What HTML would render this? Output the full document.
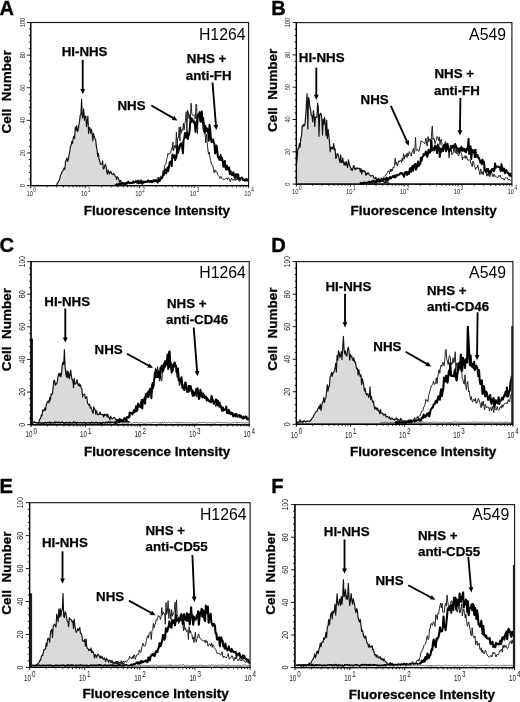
<!DOCTYPE html>
<html><head><meta charset="utf-8"><style>
html,body{margin:0;padding:0;background:#fff;}
svg{display:block;filter:grayscale(1) blur(0.25px);}
text{font-family:"Liberation Sans", sans-serif;}
</style></head><body>
<svg width="520" height="702" viewBox="0 0 520 702">
<rect width="520" height="702" fill="#fff"/>
<text x="-0.50" y="14.50" font-size="20.1" font-weight="bold" fill="#000" text-anchor="start" stroke="#000" stroke-width="0.35">A</text>
<path d="M56.40,185.60 L57.10,183.83 L57.80,182.67 L58.50,181.24 L59.20,180.37 L59.90,178.13 L60.60,174.90 L61.30,174.19 L62.00,171.65 L62.70,171.30 L63.40,169.46 L64.10,167.95 L64.80,169.52 L65.50,161.81 L66.20,160.24 L66.90,157.90 L67.60,161.49 L68.30,159.60 L69.00,155.00 L69.70,151.52 L70.40,146.76 L71.10,145.63 L71.80,141.34 L72.50,143.44 L73.20,138.18 L73.90,136.09 L74.60,138.54 L75.30,127.15 L76.00,130.12 L76.70,125.60 L77.40,131.73 L78.10,129.92 L78.80,125.46 L79.50,121.65 L80.20,115.28 L80.90,114.43 L81.60,99.16 L82.30,118.01 L83.00,116.76 L83.70,108.84 L84.40,120.32 L85.10,116.05 L85.80,116.24 L86.50,126.76 L87.20,120.38 L87.90,116.19 L88.60,133.55 L89.30,127.43 L90.00,128.22 L90.70,133.09 L91.40,129.20 L92.10,133.36 L92.80,140.82 L93.50,133.40 L94.20,136.76 L94.90,138.48 L95.60,139.54 L96.30,145.98 L97.00,149.43 L97.70,156.33 L98.40,153.32 L99.10,159.32 L99.80,161.45 L100.50,164.24 L101.20,164.30 L101.90,164.07 L102.60,160.76 L103.30,169.00 L104.00,168.49 L104.70,165.70 L105.40,164.12 L106.10,166.74 L106.80,172.34 L107.50,174.19 L108.20,169.77 L108.90,172.50 L109.60,173.93 L110.30,171.38 L111.00,171.80 L111.70,173.78 L112.40,174.18 L113.10,174.45 L113.80,173.42 L114.50,175.30 L115.20,175.97 L115.90,176.49 L116.60,179.52 L117.30,176.76 L118.00,177.70 L118.70,178.71 L119.40,181.76 L120.10,181.05 L120.80,180.40 L121.50,183.11 L122.20,182.48 L122.90,182.36 L123.60,184.29 L124.30,183.37 L125.00,184.16 L125.70,184.71 L126.40,184.86 L127.10,185.10 L127.80,185.51 L127.80,185.60 L56.40,185.60 Z" fill="#dadada" stroke="none"/>
<path d="M56.40,185.60 L57.10,183.83 L57.80,182.67 L58.50,181.24 L59.20,180.37 L59.90,178.13 L60.60,174.90 L61.30,174.19 L62.00,171.65 L62.70,171.30 L63.40,169.46 L64.10,167.95 L64.80,169.52 L65.50,161.81 L66.20,160.24 L66.90,157.90 L67.60,161.49 L68.30,159.60 L69.00,155.00 L69.70,151.52 L70.40,146.76 L71.10,145.63 L71.80,141.34 L72.50,143.44 L73.20,138.18 L73.90,136.09 L74.60,138.54 L75.30,127.15 L76.00,130.12 L76.70,125.60 L77.40,131.73 L78.10,129.92 L78.80,125.46 L79.50,121.65 L80.20,115.28 L80.90,114.43 L81.60,99.16 L82.30,118.01 L83.00,116.76 L83.70,108.84 L84.40,120.32 L85.10,116.05 L85.80,116.24 L86.50,126.76 L87.20,120.38 L87.90,116.19 L88.60,133.55 L89.30,127.43 L90.00,128.22 L90.70,133.09 L91.40,129.20 L92.10,133.36 L92.80,140.82 L93.50,133.40 L94.20,136.76 L94.90,138.48 L95.60,139.54 L96.30,145.98 L97.00,149.43 L97.70,156.33 L98.40,153.32 L99.10,159.32 L99.80,161.45 L100.50,164.24 L101.20,164.30 L101.90,164.07 L102.60,160.76 L103.30,169.00 L104.00,168.49 L104.70,165.70 L105.40,164.12 L106.10,166.74 L106.80,172.34 L107.50,174.19 L108.20,169.77 L108.90,172.50 L109.60,173.93 L110.30,171.38 L111.00,171.80 L111.70,173.78 L112.40,174.18 L113.10,174.45 L113.80,173.42 L114.50,175.30 L115.20,175.97 L115.90,176.49 L116.60,179.52 L117.30,176.76 L118.00,177.70 L118.70,178.71 L119.40,181.76 L120.10,181.05 L120.80,180.40 L121.50,183.11 L122.20,182.48 L122.90,182.36 L123.60,184.29 L124.30,183.37 L125.00,184.16 L125.70,184.71 L126.40,184.86 L127.10,185.10 L127.80,185.51" fill="none" stroke="#111" stroke-width="1.15" stroke-linejoin="round"/>
<path d="M140.00,183.92 L140.70,183.18 L141.40,184.11 L142.10,182.92 L142.80,183.43 L143.50,183.27 L144.20,181.78 L144.90,182.67 L145.60,182.63 L146.30,181.93 L147.00,181.47 L147.70,182.11 L148.40,181.48 L149.10,182.48 L149.80,181.86 L150.50,181.66 L151.20,182.12 L151.90,182.01 L152.60,181.86 L153.30,180.29 L154.00,179.92 L154.70,179.76 L155.40,179.06 L156.10,180.25 L156.80,178.60 L157.50,177.93 L158.20,177.02 L158.90,178.58 L159.60,177.43 L160.30,178.69 L161.00,175.83 L161.70,177.47 L162.40,175.52 L163.10,170.42 L163.80,173.93 L164.50,166.08 L165.20,164.67 L165.90,163.81 L166.60,159.68 L167.30,157.15 L168.00,153.36 L168.70,154.63 L169.40,154.02 L170.10,152.80 L170.80,152.76 L171.50,148.47 L172.20,149.63 L172.90,142.06 L173.60,150.93 L174.30,147.00 L175.00,145.27 L175.70,148.28 L176.40,131.96 L177.10,147.22 L177.80,137.70 L178.50,137.39 L179.20,127.18 L179.90,140.95 L180.60,126.80 L181.30,133.22 L182.00,129.43 L182.70,130.44 L183.40,123.19 L184.10,129.99 L184.80,123.73 L185.50,120.30 L186.20,111.70 L186.90,131.09 L187.60,110.26 L188.30,112.11 L189.00,118.90 L189.70,114.43 L190.40,117.92 L191.10,103.23 L191.80,113.53 L192.50,115.28 L193.20,115.09 L193.90,115.15 L194.60,115.25 L195.30,119.10 L196.00,104.12 L196.70,105.68 L197.40,133.74 L198.10,116.04 L198.80,117.42 L199.50,116.53 L200.20,121.08 L200.90,122.49 L201.60,121.92 L202.30,120.73 L203.00,128.90 L203.70,131.58 L204.40,125.00 L205.10,134.03 L205.80,142.97 L206.50,133.91 L207.20,142.46 L207.90,149.79 L208.60,154.23 L209.30,152.13 L210.00,157.69 L210.70,160.50 L211.40,163.84 L212.10,165.20 L212.80,165.29 L213.50,169.93 L214.20,172.64 L214.90,169.77 L215.60,171.73 L216.30,171.40 L217.00,171.81 L217.70,174.78 L218.40,175.63 L219.10,176.38 L219.80,178.49 L220.50,176.79 L221.20,176.50 L221.90,178.36 L222.60,179.28 L223.30,179.34 L224.00,179.62 L224.70,179.37 L225.40,178.65 L226.10,178.88 L226.80,178.13 L227.50,179.47 L228.20,177.59 L228.90,178.31 L229.60,179.99 L230.30,181.52 L231.00,179.29 L231.70,178.22 L232.40,180.14 L233.10,179.94 L233.80,180.08 L234.50,178.92 L235.20,180.54 L235.90,178.72 L236.60,180.05 L237.30,178.91 L238.00,179.84 L238.70,180.15 L239.40,181.39 L240.10,180.70 L240.80,180.35 L241.50,179.55 L242.20,179.99 L242.90,180.92 L243.60,179.96 L244.30,179.50 L245.00,180.59 L245.70,180.91 L246.40,180.92 L247.10,179.91 L247.80,180.22" fill="none" stroke="#1a1a1a" stroke-width="0.95" stroke-linejoin="round"/>
<path d="M115.00,185.16 L115.70,185.06 L116.40,184.31 L117.10,185.32 L117.80,184.39 L118.50,185.17 L119.20,183.61 L119.90,183.89 L120.60,183.22 L121.30,184.01 L122.00,183.44 L122.70,183.68 L123.40,183.82 L124.10,183.22 L124.80,183.92 L125.50,183.33 L126.20,182.66 L126.90,182.99 L127.60,183.23 L128.30,181.59 L129.00,182.86 L129.70,183.21 L130.40,182.70 L131.10,183.09 L131.80,182.96 L132.50,182.89 L133.20,181.29 L133.90,182.56 L134.60,182.41 L135.30,182.03 L136.00,181.07 L136.70,182.54 L137.40,182.78 L138.10,180.58 L138.80,183.28 L139.50,182.47 L140.20,181.69 L140.90,180.48 L141.60,182.76 L142.30,183.79 L143.00,181.49 L143.70,182.32 L144.40,182.18 L145.10,181.50 L145.80,181.63 L146.50,181.53 L147.20,182.04 L147.90,180.66 L148.60,180.44 L149.30,181.54 L150.00,181.88 L150.70,180.88 L151.40,181.01 L152.10,182.17 L152.80,181.64 L153.50,180.34 L154.20,181.22 L154.90,181.35 L155.60,180.84 L156.30,180.98 L157.00,180.89 L157.70,182.49 L158.40,179.24 L159.10,180.45 L159.80,180.88 L160.50,178.50 L161.20,178.59 L161.90,178.32 L162.60,176.55 L163.30,174.06 L164.00,174.82 L164.70,171.92 L165.40,169.54 L166.10,173.35 L166.80,171.25 L167.50,167.60 L168.20,171.19 L168.90,167.15 L169.60,162.59 L170.30,161.80 L171.00,161.55 L171.70,166.21 L172.40,154.55 L173.10,157.69 L173.80,155.77 L174.50,155.16 L175.20,160.06 L175.90,158.09 L176.60,156.27 L177.30,145.45 L178.00,152.66 L178.70,149.64 L179.40,148.51 L180.10,144.56 L180.80,143.57 L181.50,143.17 L182.20,147.44 L182.90,153.19 L183.60,139.80 L184.30,138.07 L185.00,132.98 L185.70,136.83 L186.40,137.56 L187.10,132.07 L187.80,138.94 L188.50,135.54 L189.20,134.11 L189.90,127.04 L190.60,117.47 L191.30,121.96 L192.00,118.71 L192.70,121.47 L193.40,120.33 L194.10,123.26 L194.80,121.89 L195.50,131.82 L196.20,125.29 L196.90,125.18 L197.60,114.81 L198.30,115.93 L199.00,113.85 L199.70,112.09 L200.40,121.45 L201.10,115.07 L201.80,111.39 L202.50,122.03 L203.20,118.01 L203.90,125.04 L204.60,132.80 L205.30,125.92 L206.00,131.20 L206.70,128.11 L207.40,131.67 L208.10,129.34 L208.80,140.81 L209.50,124.86 L210.20,129.68 L210.90,138.23 L211.60,142.03 L212.30,140.22 L213.00,139.47 L213.70,142.12 L214.40,143.87 L215.10,153.33 L215.80,151.89 L216.50,145.43 L217.20,150.43 L217.90,157.19 L218.60,156.64 L219.30,159.66 L220.00,159.73 L220.70,155.13 L221.40,160.07 L222.10,157.99 L222.80,161.59 L223.50,166.79 L224.20,166.02 L224.90,160.95 L225.60,168.25 L226.30,169.51 L227.00,165.66 L227.70,168.66 L228.40,169.57 L229.10,167.62 L229.80,174.11 L230.50,171.02 L231.20,174.04 L231.90,175.10 L232.60,174.67 L233.30,172.18 L234.00,174.69 L234.70,177.67 L235.40,177.12 L236.10,174.05 L236.80,175.18 L237.50,178.33 L238.20,174.38 L238.90,178.23 L239.60,179.59 L240.30,178.79 L241.00,178.06 L241.70,177.55 L242.40,178.16 L243.10,179.69 L243.80,179.83 L244.50,180.77 L245.20,179.32 L245.90,179.87 L246.60,178.98 L247.30,180.57 L248.00,179.78" fill="none" stroke="#000" stroke-width="2.0" stroke-linejoin="round"/>
<rect x="30.70" y="22.50" width="217.90" height="163.10" fill="none" stroke="#1a1a1a" stroke-width="1.15"/>
<line x1="30.70" y1="22.10" x2="30.70" y2="186.10" stroke="#000" stroke-width="1.3"/>
<line x1="30.20" y1="185.60" x2="249.00" y2="185.60" stroke="#000" stroke-width="1.4"/>
<line x1="26.90" y1="185.60" x2="30.70" y2="185.60" stroke="#000" stroke-width="0.9"/>
<line x1="28.90" y1="179.08" x2="30.70" y2="179.08" stroke="#000" stroke-width="0.9"/>
<line x1="28.90" y1="172.55" x2="30.70" y2="172.55" stroke="#000" stroke-width="0.9"/>
<line x1="28.90" y1="166.03" x2="30.70" y2="166.03" stroke="#000" stroke-width="0.9"/>
<line x1="28.90" y1="159.50" x2="30.70" y2="159.50" stroke="#000" stroke-width="0.9"/>
<line x1="26.90" y1="152.98" x2="30.70" y2="152.98" stroke="#000" stroke-width="0.9"/>
<line x1="28.90" y1="146.46" x2="30.70" y2="146.46" stroke="#000" stroke-width="0.9"/>
<line x1="28.90" y1="139.93" x2="30.70" y2="139.93" stroke="#000" stroke-width="0.9"/>
<line x1="28.90" y1="133.41" x2="30.70" y2="133.41" stroke="#000" stroke-width="0.9"/>
<line x1="28.90" y1="126.88" x2="30.70" y2="126.88" stroke="#000" stroke-width="0.9"/>
<line x1="26.90" y1="120.36" x2="30.70" y2="120.36" stroke="#000" stroke-width="0.9"/>
<line x1="28.90" y1="113.84" x2="30.70" y2="113.84" stroke="#000" stroke-width="0.9"/>
<line x1="28.90" y1="107.31" x2="30.70" y2="107.31" stroke="#000" stroke-width="0.9"/>
<line x1="28.90" y1="100.79" x2="30.70" y2="100.79" stroke="#000" stroke-width="0.9"/>
<line x1="28.90" y1="94.26" x2="30.70" y2="94.26" stroke="#000" stroke-width="0.9"/>
<line x1="26.90" y1="87.74" x2="30.70" y2="87.74" stroke="#000" stroke-width="0.9"/>
<line x1="28.90" y1="81.22" x2="30.70" y2="81.22" stroke="#000" stroke-width="0.9"/>
<line x1="28.90" y1="74.69" x2="30.70" y2="74.69" stroke="#000" stroke-width="0.9"/>
<line x1="28.90" y1="68.17" x2="30.70" y2="68.17" stroke="#000" stroke-width="0.9"/>
<line x1="28.90" y1="61.64" x2="30.70" y2="61.64" stroke="#000" stroke-width="0.9"/>
<line x1="26.90" y1="55.12" x2="30.70" y2="55.12" stroke="#000" stroke-width="0.9"/>
<line x1="28.90" y1="48.60" x2="30.70" y2="48.60" stroke="#000" stroke-width="0.9"/>
<line x1="28.90" y1="42.07" x2="30.70" y2="42.07" stroke="#000" stroke-width="0.9"/>
<line x1="28.90" y1="35.55" x2="30.70" y2="35.55" stroke="#000" stroke-width="0.9"/>
<line x1="28.90" y1="29.02" x2="30.70" y2="29.02" stroke="#000" stroke-width="0.9"/>
<line x1="26.90" y1="22.50" x2="30.70" y2="22.50" stroke="#000" stroke-width="0.9"/>
<text x="25.10" y="185.60" font-size="7.2" font-weight="normal" fill="#222" text-anchor="middle" transform="rotate(-90 25.1 185.6)" textLength="3.2" lengthAdjust="spacingAndGlyphs">0</text>
<text x="25.10" y="152.98" font-size="7.2" font-weight="normal" fill="#222" text-anchor="middle" transform="rotate(-90 25.1 152.98)" textLength="6.3" lengthAdjust="spacingAndGlyphs">20</text>
<text x="25.10" y="120.36" font-size="7.2" font-weight="normal" fill="#222" text-anchor="middle" transform="rotate(-90 25.1 120.36)" textLength="6.3" lengthAdjust="spacingAndGlyphs">40</text>
<text x="25.10" y="87.74" font-size="7.2" font-weight="normal" fill="#222" text-anchor="middle" transform="rotate(-90 25.1 87.74)" textLength="6.3" lengthAdjust="spacingAndGlyphs">60</text>
<text x="25.10" y="55.12" font-size="7.2" font-weight="normal" fill="#222" text-anchor="middle" transform="rotate(-90 25.1 55.120000000000005)" textLength="6.3" lengthAdjust="spacingAndGlyphs">80</text>
<text x="25.10" y="22.50" font-size="7.2" font-weight="normal" fill="#222" text-anchor="middle" transform="rotate(-90 25.1 22.5)" textLength="9.6" lengthAdjust="spacingAndGlyphs">100</text>
<line x1="47.10" y1="185.60" x2="47.10" y2="187.40" stroke="#000" stroke-width="0.8"/>
<line x1="56.69" y1="185.60" x2="56.69" y2="187.40" stroke="#000" stroke-width="0.8"/>
<line x1="63.50" y1="185.60" x2="63.50" y2="187.40" stroke="#000" stroke-width="0.8"/>
<line x1="68.78" y1="185.60" x2="68.78" y2="187.40" stroke="#000" stroke-width="0.8"/>
<line x1="73.09" y1="185.60" x2="73.09" y2="187.40" stroke="#000" stroke-width="0.8"/>
<line x1="76.74" y1="185.60" x2="76.74" y2="187.40" stroke="#000" stroke-width="0.8"/>
<line x1="79.90" y1="185.60" x2="79.90" y2="187.40" stroke="#000" stroke-width="0.8"/>
<line x1="82.68" y1="185.60" x2="82.68" y2="187.40" stroke="#000" stroke-width="0.8"/>
<line x1="101.57" y1="185.60" x2="101.57" y2="187.40" stroke="#000" stroke-width="0.8"/>
<line x1="111.17" y1="185.60" x2="111.17" y2="187.40" stroke="#000" stroke-width="0.8"/>
<line x1="117.97" y1="185.60" x2="117.97" y2="187.40" stroke="#000" stroke-width="0.8"/>
<line x1="123.25" y1="185.60" x2="123.25" y2="187.40" stroke="#000" stroke-width="0.8"/>
<line x1="127.56" y1="185.60" x2="127.56" y2="187.40" stroke="#000" stroke-width="0.8"/>
<line x1="131.21" y1="185.60" x2="131.21" y2="187.40" stroke="#000" stroke-width="0.8"/>
<line x1="134.37" y1="185.60" x2="134.37" y2="187.40" stroke="#000" stroke-width="0.8"/>
<line x1="137.16" y1="185.60" x2="137.16" y2="187.40" stroke="#000" stroke-width="0.8"/>
<line x1="156.05" y1="185.60" x2="156.05" y2="187.40" stroke="#000" stroke-width="0.8"/>
<line x1="165.64" y1="185.60" x2="165.64" y2="187.40" stroke="#000" stroke-width="0.8"/>
<line x1="172.45" y1="185.60" x2="172.45" y2="187.40" stroke="#000" stroke-width="0.8"/>
<line x1="177.73" y1="185.60" x2="177.73" y2="187.40" stroke="#000" stroke-width="0.8"/>
<line x1="182.04" y1="185.60" x2="182.04" y2="187.40" stroke="#000" stroke-width="0.8"/>
<line x1="185.69" y1="185.60" x2="185.69" y2="187.40" stroke="#000" stroke-width="0.8"/>
<line x1="188.85" y1="185.60" x2="188.85" y2="187.40" stroke="#000" stroke-width="0.8"/>
<line x1="191.63" y1="185.60" x2="191.63" y2="187.40" stroke="#000" stroke-width="0.8"/>
<line x1="210.52" y1="185.60" x2="210.52" y2="187.40" stroke="#000" stroke-width="0.8"/>
<line x1="220.12" y1="185.60" x2="220.12" y2="187.40" stroke="#000" stroke-width="0.8"/>
<line x1="226.92" y1="185.60" x2="226.92" y2="187.40" stroke="#000" stroke-width="0.8"/>
<line x1="232.20" y1="185.60" x2="232.20" y2="187.40" stroke="#000" stroke-width="0.8"/>
<line x1="236.51" y1="185.60" x2="236.51" y2="187.40" stroke="#000" stroke-width="0.8"/>
<line x1="240.16" y1="185.60" x2="240.16" y2="187.40" stroke="#000" stroke-width="0.8"/>
<line x1="243.32" y1="185.60" x2="243.32" y2="187.40" stroke="#000" stroke-width="0.8"/>
<line x1="246.11" y1="185.60" x2="246.11" y2="187.40" stroke="#000" stroke-width="0.8"/>
<line x1="30.70" y1="185.60" x2="30.70" y2="188.10" stroke="#000" stroke-width="0.9"/>
<text x="26.40" y="195.80" font-size="7.5" font-weight="normal" fill="#222" text-anchor="start" textLength="6.5" lengthAdjust="spacingAndGlyphs">10</text>
<text x="33.30" y="191.90" font-size="7.2" font-weight="normal" fill="#222" text-anchor="start" textLength="2.6" lengthAdjust="spacingAndGlyphs">0</text>
<line x1="85.17" y1="185.60" x2="85.17" y2="188.10" stroke="#000" stroke-width="0.9"/>
<text x="80.88" y="195.80" font-size="7.5" font-weight="normal" fill="#222" text-anchor="start" textLength="6.5" lengthAdjust="spacingAndGlyphs">10</text>
<text x="87.77" y="191.90" font-size="7.2" font-weight="normal" fill="#222" text-anchor="start" textLength="2.6" lengthAdjust="spacingAndGlyphs">1</text>
<line x1="139.65" y1="185.60" x2="139.65" y2="188.10" stroke="#000" stroke-width="0.9"/>
<text x="135.35" y="195.80" font-size="7.5" font-weight="normal" fill="#222" text-anchor="start" textLength="6.5" lengthAdjust="spacingAndGlyphs">10</text>
<text x="142.25" y="191.90" font-size="7.2" font-weight="normal" fill="#222" text-anchor="start" textLength="2.6" lengthAdjust="spacingAndGlyphs">2</text>
<line x1="194.12" y1="185.60" x2="194.12" y2="188.10" stroke="#000" stroke-width="0.9"/>
<text x="189.82" y="195.80" font-size="7.5" font-weight="normal" fill="#222" text-anchor="start" textLength="6.5" lengthAdjust="spacingAndGlyphs">10</text>
<text x="196.72" y="191.90" font-size="7.2" font-weight="normal" fill="#222" text-anchor="start" textLength="2.6" lengthAdjust="spacingAndGlyphs">3</text>
<line x1="248.60" y1="185.60" x2="248.60" y2="188.10" stroke="#000" stroke-width="0.9"/>
<text x="244.30" y="195.80" font-size="7.5" font-weight="normal" fill="#222" text-anchor="start" textLength="6.5" lengthAdjust="spacingAndGlyphs">10</text>
<text x="251.20" y="191.90" font-size="7.2" font-weight="normal" fill="#222" text-anchor="start" textLength="2.6" lengthAdjust="spacingAndGlyphs">4</text>
<text x="11.50" y="91.90" font-size="13.5" font-weight="bold" fill="#000" text-anchor="middle" transform="rotate(-90 11.5 91.9)" stroke="#000" stroke-width="0.3">Cell&#160;&#160;Number</text>
<text x="83.70" y="214.90" font-size="13.5" font-weight="bold" fill="#000" text-anchor="start" stroke="#000" stroke-width="0.3">Fluorescence Intensity</text>
<text x="245.50" y="39.50" font-size="15.8" font-weight="normal" fill="#000" text-anchor="end">H1264</text>
<text x="61.70" y="56.30" font-size="13.3" font-weight="bold" fill="#000" text-anchor="start" stroke="#000" stroke-width="0.25">HI-NHS</text>
<text x="186.80" y="63.40" font-size="13.3" font-weight="bold" fill="#000" text-anchor="start" stroke="#000" stroke-width="0.25">NHS +</text>
<text x="185.80" y="79.80" font-size="13.3" font-weight="bold" fill="#000" text-anchor="start" stroke="#000" stroke-width="0.25">anti-FH</text>
<text x="117.50" y="110.00" font-size="13.3" font-weight="bold" fill="#000" text-anchor="start" stroke="#000" stroke-width="0.25">NHS</text>
<line x1="82.70" y1="59.80" x2="82.70" y2="90.10" stroke="#000" stroke-width="1.85"/>
<path d="M82.70,94.30 L80.30,89.10 L85.10,89.10 Z" fill="#000"/>
<line x1="151.30" y1="105.50" x2="173.86" y2="118.41" stroke="#000" stroke-width="1.85"/>
<path d="M177.50,120.50 L171.79,120.00 L174.18,115.83 Z" fill="#000"/>
<line x1="212.50" y1="82.50" x2="215.97" y2="125.81" stroke="#000" stroke-width="1.85"/>
<path d="M216.30,130.00 L213.49,125.01 L218.28,124.63 Z" fill="#000"/>
<text x="271.30" y="14.50" font-size="20.1" font-weight="bold" fill="#000" text-anchor="start" stroke="#000" stroke-width="0.35">B</text>
<path d="M296.60,163.48 L297.30,155.51 L298.00,148.39 L298.70,148.39 L299.40,143.45 L300.10,147.18 L300.80,138.36 L301.50,135.91 L302.20,125.86 L302.90,126.59 L303.60,124.35 L304.30,125.68 L305.00,123.59 L305.70,115.64 L306.40,104.12 L307.10,93.66 L307.80,129.04 L308.50,97.28 L309.20,100.24 L309.90,107.00 L310.60,109.60 L311.30,115.40 L312.00,115.80 L312.70,121.90 L313.40,110.47 L314.10,115.45 L314.80,126.39 L315.50,116.97 L316.20,116.98 L316.90,117.41 L317.60,103.35 L318.30,107.43 L319.00,136.19 L319.70,114.95 L320.40,113.30 L321.10,113.71 L321.80,118.19 L322.50,135.06 L323.20,119.15 L323.90,124.46 L324.60,117.25 L325.30,123.56 L326.00,135.84 L326.70,120.11 L327.40,138.50 L328.10,129.25 L328.80,135.12 L329.50,142.12 L330.20,151.74 L330.90,147.08 L331.60,148.78 L332.30,147.32 L333.00,149.01 L333.70,143.67 L334.40,149.85 L335.10,148.87 L335.80,158.51 L336.50,157.38 L337.20,153.67 L337.90,154.25 L338.60,155.90 L339.30,160.06 L340.00,162.52 L340.70,154.95 L341.40,162.77 L342.10,162.56 L342.80,157.96 L343.50,162.69 L344.20,165.24 L344.90,162.08 L345.60,165.06 L346.30,161.60 L347.00,165.47 L347.70,167.48 L348.40,159.87 L349.10,163.14 L349.80,166.06 L350.50,167.00 L351.20,170.09 L351.90,168.65 L352.60,170.49 L353.30,166.04 L354.00,165.49 L354.70,169.03 L355.40,169.58 L356.10,167.88 L356.80,168.92 L357.50,167.96 L358.20,168.24 L358.90,168.61 L359.60,168.34 L360.30,171.83 L361.00,168.58 L361.70,174.19 L362.40,170.31 L363.10,171.39 L363.80,170.47 L364.50,171.85 L365.20,171.39 L365.90,175.36 L366.60,173.40 L367.30,174.18 L368.00,172.52 L368.70,173.30 L369.40,174.81 L370.10,175.37 L370.80,176.11 L371.50,175.72 L372.20,175.41 L372.90,175.55 L373.60,177.15 L374.30,178.73 L375.00,178.73 L375.70,177.21 L376.40,179.48 L377.10,178.97 L377.80,181.28 L378.50,178.27 L379.20,179.39 L379.90,180.31 L380.60,180.18 L381.30,179.75 L382.00,180.63 L382.70,180.66 L383.40,181.07 L384.10,182.15 L384.80,182.72 L385.50,181.16 L386.20,182.35 L386.90,181.62 L387.60,181.91 L388.30,182.95 L389.00,183.24 L389.70,183.41 L389.70,184.10 L296.60,184.10 Z" fill="#dadada" stroke="none"/>
<path d="M296.60,163.48 L297.30,155.51 L298.00,148.39 L298.70,148.39 L299.40,143.45 L300.10,147.18 L300.80,138.36 L301.50,135.91 L302.20,125.86 L302.90,126.59 L303.60,124.35 L304.30,125.68 L305.00,123.59 L305.70,115.64 L306.40,104.12 L307.10,93.66 L307.80,129.04 L308.50,97.28 L309.20,100.24 L309.90,107.00 L310.60,109.60 L311.30,115.40 L312.00,115.80 L312.70,121.90 L313.40,110.47 L314.10,115.45 L314.80,126.39 L315.50,116.97 L316.20,116.98 L316.90,117.41 L317.60,103.35 L318.30,107.43 L319.00,136.19 L319.70,114.95 L320.40,113.30 L321.10,113.71 L321.80,118.19 L322.50,135.06 L323.20,119.15 L323.90,124.46 L324.60,117.25 L325.30,123.56 L326.00,135.84 L326.70,120.11 L327.40,138.50 L328.10,129.25 L328.80,135.12 L329.50,142.12 L330.20,151.74 L330.90,147.08 L331.60,148.78 L332.30,147.32 L333.00,149.01 L333.70,143.67 L334.40,149.85 L335.10,148.87 L335.80,158.51 L336.50,157.38 L337.20,153.67 L337.90,154.25 L338.60,155.90 L339.30,160.06 L340.00,162.52 L340.70,154.95 L341.40,162.77 L342.10,162.56 L342.80,157.96 L343.50,162.69 L344.20,165.24 L344.90,162.08 L345.60,165.06 L346.30,161.60 L347.00,165.47 L347.70,167.48 L348.40,159.87 L349.10,163.14 L349.80,166.06 L350.50,167.00 L351.20,170.09 L351.90,168.65 L352.60,170.49 L353.30,166.04 L354.00,165.49 L354.70,169.03 L355.40,169.58 L356.10,167.88 L356.80,168.92 L357.50,167.96 L358.20,168.24 L358.90,168.61 L359.60,168.34 L360.30,171.83 L361.00,168.58 L361.70,174.19 L362.40,170.31 L363.10,171.39 L363.80,170.47 L364.50,171.85 L365.20,171.39 L365.90,175.36 L366.60,173.40 L367.30,174.18 L368.00,172.52 L368.70,173.30 L369.40,174.81 L370.10,175.37 L370.80,176.11 L371.50,175.72 L372.20,175.41 L372.90,175.55 L373.60,177.15 L374.30,178.73 L375.00,178.73 L375.70,177.21 L376.40,179.48 L377.10,178.97 L377.80,181.28 L378.50,178.27 L379.20,179.39 L379.90,180.31 L380.60,180.18 L381.30,179.75 L382.00,180.63 L382.70,180.66 L383.40,181.07 L384.10,182.15 L384.80,182.72 L385.50,181.16 L386.20,182.35 L386.90,181.62 L387.60,181.91 L388.30,182.95 L389.00,183.24 L389.70,183.41" fill="none" stroke="#111" stroke-width="1.15" stroke-linejoin="round"/>
<path d="M370.00,183.68 L370.70,182.99 L371.40,182.57 L372.10,182.99 L372.80,183.20 L373.50,182.48 L374.20,182.04 L374.90,181.54 L375.60,182.60 L376.30,182.50 L377.00,181.18 L377.70,181.14 L378.40,180.28 L379.10,180.44 L379.80,180.99 L380.50,180.56 L381.20,177.51 L381.90,179.18 L382.60,178.97 L383.30,178.68 L384.00,176.66 L384.70,175.88 L385.40,175.76 L386.10,174.68 L386.80,173.48 L387.50,172.13 L388.20,170.75 L388.90,171.33 L389.60,173.81 L390.30,169.01 L391.00,171.90 L391.70,169.02 L392.40,170.69 L393.10,167.24 L393.80,168.02 L394.50,165.34 L395.20,158.25 L395.90,164.51 L396.60,162.06 L397.30,166.19 L398.00,163.40 L398.70,160.72 L399.40,161.87 L400.10,160.25 L400.80,160.32 L401.50,162.43 L402.20,158.09 L402.90,160.93 L403.60,153.67 L404.30,159.11 L405.00,155.50 L405.70,156.72 L406.40,153.84 L407.10,157.63 L407.80,153.01 L408.50,155.70 L409.20,151.58 L409.90,152.98 L410.60,153.97 L411.30,156.21 L412.00,151.54 L412.70,152.04 L413.40,148.34 L414.10,153.79 L414.80,150.76 L415.50,137.26 L416.20,150.73 L416.90,150.12 L417.60,149.36 L418.30,150.96 L419.00,151.48 L419.70,148.73 L420.40,144.71 L421.10,140.81 L421.80,141.99 L422.50,141.53 L423.20,142.25 L423.90,142.31 L424.60,143.86 L425.30,141.66 L426.00,138.04 L426.70,145.01 L427.40,146.05 L428.10,136.47 L428.80,141.99 L429.50,139.03 L430.20,138.93 L430.90,145.65 L431.60,132.48 L432.30,125.96 L433.00,139.85 L433.70,137.77 L434.40,140.04 L435.10,143.70 L435.80,140.90 L436.50,139.14 L437.20,136.45 L437.90,138.07 L438.60,140.91 L439.30,136.80 L440.00,144.79 L440.70,139.83 L441.40,139.23 L442.10,144.59 L442.80,150.18 L443.50,147.63 L444.20,144.26 L444.90,143.95 L445.60,141.49 L446.30,150.60 L447.00,148.20 L447.70,147.03 L448.40,150.37 L449.10,157.84 L449.80,149.18 L450.50,145.17 L451.20,149.19 L451.90,154.98 L452.60,153.69 L453.30,152.05 L454.00,145.74 L454.70,151.30 L455.40,152.93 L456.10,149.03 L456.80,153.83 L457.50,148.53 L458.20,155.84 L458.90,155.41 L459.60,152.24 L460.30,150.46 L461.00,152.76 L461.70,153.90 L462.40,159.88 L463.10,157.07 L463.80,157.42 L464.50,157.84 L465.20,155.56 L465.90,158.60 L466.60,156.42 L467.30,158.85 L468.00,160.51 L468.70,160.08 L469.40,160.01 L470.10,159.70 L470.80,163.40 L471.50,163.52 L472.20,166.63 L472.90,161.01 L473.60,162.08 L474.30,166.10 L475.00,167.36 L475.70,169.46 L476.40,167.40 L477.10,167.92 L477.80,165.00 L478.50,169.02 L479.20,171.33 L479.90,174.61 L480.60,168.93 L481.30,171.29 L482.00,174.26 L482.70,171.69 L483.40,174.59 L484.10,167.12 L484.80,170.87 L485.50,171.88 L486.20,173.17 L486.90,176.18 L487.60,173.48 L488.30,175.67 L489.00,172.85 L489.70,176.81 L490.40,175.29 L491.10,172.61 L491.80,172.27 L492.50,176.23 L493.20,176.90 L493.90,174.06 L494.60,174.35 L495.30,176.85 L496.00,176.72 L496.70,176.95 L497.40,177.75 L498.10,177.39 L498.80,175.47 L499.50,176.35 L500.20,175.16 L500.90,177.67 L501.60,177.96 L502.30,179.00 L503.00,178.29 L503.70,179.59 L504.40,180.16 L505.10,177.96 L505.80,177.43 L506.50,178.15 L507.20,177.87 L507.90,178.98 L508.60,179.97 L509.30,179.42 L510.00,179.95 L510.70,180.69 L511.40,181.28" fill="none" stroke="#1a1a1a" stroke-width="0.95" stroke-linejoin="round"/>
<path d="M360.00,183.32 L360.70,182.72 L361.40,183.41 L362.10,183.71 L362.80,182.88 L363.50,182.66 L364.20,182.67 L364.90,182.53 L365.60,182.71 L366.30,182.85 L367.00,182.85 L367.70,182.53 L368.40,182.53 L369.10,181.82 L369.80,181.88 L370.50,182.76 L371.20,181.67 L371.90,181.97 L372.60,181.27 L373.30,180.97 L374.00,181.41 L374.70,182.68 L375.40,181.13 L376.10,182.32 L376.80,180.19 L377.50,181.46 L378.20,180.99 L378.90,179.42 L379.60,181.81 L380.30,180.34 L381.00,181.02 L381.70,180.44 L382.40,180.51 L383.10,179.15 L383.80,179.80 L384.50,179.08 L385.20,178.65 L385.90,180.57 L386.60,177.61 L387.30,178.95 L388.00,180.12 L388.70,179.02 L389.40,177.37 L390.10,177.07 L390.80,178.54 L391.50,177.50 L392.20,177.12 L392.90,176.01 L393.60,177.05 L394.30,175.55 L395.00,177.46 L395.70,177.04 L396.40,175.16 L397.10,174.84 L397.80,175.54 L398.50,174.48 L399.20,174.74 L399.90,173.77 L400.60,172.99 L401.30,173.60 L402.00,172.94 L402.70,174.38 L403.40,174.38 L404.10,176.72 L404.80,172.53 L405.50,172.84 L406.20,171.76 L406.90,175.02 L407.60,172.51 L408.30,172.24 L409.00,173.89 L409.70,169.04 L410.40,168.07 L411.10,171.94 L411.80,168.56 L412.50,165.85 L413.20,170.74 L413.90,166.30 L414.60,164.74 L415.30,163.76 L416.00,169.57 L416.70,168.13 L417.40,164.62 L418.10,161.54 L418.80,165.98 L419.50,163.97 L420.20,163.94 L420.90,157.73 L421.60,160.86 L422.30,157.25 L423.00,156.24 L423.70,154.07 L424.40,155.22 L425.10,154.62 L425.80,151.53 L426.50,152.63 L427.20,156.85 L427.90,154.31 L428.60,149.67 L429.30,151.53 L430.00,152.60 L430.70,150.40 L431.40,140.62 L432.10,150.50 L432.80,148.44 L433.50,148.27 L434.20,150.37 L434.90,145.59 L435.60,146.45 L436.30,147.71 L437.00,153.10 L437.70,144.59 L438.40,145.98 L439.10,148.52 L439.80,156.87 L440.50,148.39 L441.20,152.11 L441.90,148.94 L442.60,149.84 L443.30,150.87 L444.00,144.94 L444.70,147.84 L445.40,144.23 L446.10,151.31 L446.80,148.82 L447.50,143.81 L448.20,147.15 L448.90,150.54 L449.60,151.07 L450.30,150.11 L451.00,148.48 L451.70,145.99 L452.40,147.74 L453.10,145.78 L453.80,145.50 L454.50,147.82 L455.20,144.05 L455.90,145.83 L456.60,148.80 L457.30,148.74 L458.00,148.27 L458.70,150.59 L459.40,152.53 L460.10,148.15 L460.80,150.12 L461.50,146.82 L462.20,150.80 L462.90,148.80 L463.60,148.70 L464.30,151.01 L465.00,149.14 L465.70,152.27 L466.40,151.67 L467.10,148.21 L467.80,149.81 L468.50,138.88 L469.20,154.00 L469.90,149.88 L470.60,146.37 L471.30,159.01 L472.00,149.86 L472.70,152.62 L473.40,150.41 L474.10,150.56 L474.80,157.10 L475.50,149.65 L476.20,156.73 L476.90,156.59 L477.60,155.06 L478.30,157.78 L479.00,157.70 L479.70,160.51 L480.40,162.58 L481.10,160.84 L481.80,164.37 L482.50,159.76 L483.20,163.21 L483.90,161.72 L484.60,168.20 L485.30,170.72 L486.00,171.90 L486.70,169.11 L487.40,171.32 L488.10,168.98 L488.80,172.68 L489.50,173.09 L490.20,170.95 L490.90,172.26 L491.60,169.86 L492.30,168.94 L493.00,169.03 L493.70,171.17 L494.40,169.92 L495.10,163.42 L495.80,167.86 L496.50,166.58 L497.20,166.61 L497.90,166.63 L498.60,166.63 L499.30,167.41 L500.00,167.69 L500.70,170.96 L501.40,164.23 L502.10,168.06 L502.80,170.99 L503.50,168.41 L504.20,168.91 L504.90,173.18 L505.60,172.35 L506.30,169.96 L507.00,172.19 L507.70,173.08 L508.40,172.81 L509.10,174.85 L509.80,175.54 L510.50,173.68 L511.20,176.37 L511.90,176.73" fill="none" stroke="#000" stroke-width="2.0" stroke-linejoin="round"/>
<rect x="296.40" y="22.60" width="215.50" height="161.50" fill="none" stroke="#1a1a1a" stroke-width="1.15"/>
<line x1="296.40" y1="22.20" x2="296.40" y2="184.60" stroke="#000" stroke-width="1.3"/>
<line x1="295.90" y1="184.10" x2="512.30" y2="184.10" stroke="#000" stroke-width="1.4"/>
<line x1="292.60" y1="184.10" x2="296.40" y2="184.10" stroke="#000" stroke-width="0.9"/>
<line x1="294.60" y1="177.64" x2="296.40" y2="177.64" stroke="#000" stroke-width="0.9"/>
<line x1="294.60" y1="171.18" x2="296.40" y2="171.18" stroke="#000" stroke-width="0.9"/>
<line x1="294.60" y1="164.72" x2="296.40" y2="164.72" stroke="#000" stroke-width="0.9"/>
<line x1="294.60" y1="158.26" x2="296.40" y2="158.26" stroke="#000" stroke-width="0.9"/>
<line x1="292.60" y1="151.80" x2="296.40" y2="151.80" stroke="#000" stroke-width="0.9"/>
<line x1="294.60" y1="145.34" x2="296.40" y2="145.34" stroke="#000" stroke-width="0.9"/>
<line x1="294.60" y1="138.88" x2="296.40" y2="138.88" stroke="#000" stroke-width="0.9"/>
<line x1="294.60" y1="132.42" x2="296.40" y2="132.42" stroke="#000" stroke-width="0.9"/>
<line x1="294.60" y1="125.96" x2="296.40" y2="125.96" stroke="#000" stroke-width="0.9"/>
<line x1="292.60" y1="119.50" x2="296.40" y2="119.50" stroke="#000" stroke-width="0.9"/>
<line x1="294.60" y1="113.04" x2="296.40" y2="113.04" stroke="#000" stroke-width="0.9"/>
<line x1="294.60" y1="106.58" x2="296.40" y2="106.58" stroke="#000" stroke-width="0.9"/>
<line x1="294.60" y1="100.12" x2="296.40" y2="100.12" stroke="#000" stroke-width="0.9"/>
<line x1="294.60" y1="93.66" x2="296.40" y2="93.66" stroke="#000" stroke-width="0.9"/>
<line x1="292.60" y1="87.20" x2="296.40" y2="87.20" stroke="#000" stroke-width="0.9"/>
<line x1="294.60" y1="80.74" x2="296.40" y2="80.74" stroke="#000" stroke-width="0.9"/>
<line x1="294.60" y1="74.28" x2="296.40" y2="74.28" stroke="#000" stroke-width="0.9"/>
<line x1="294.60" y1="67.82" x2="296.40" y2="67.82" stroke="#000" stroke-width="0.9"/>
<line x1="294.60" y1="61.36" x2="296.40" y2="61.36" stroke="#000" stroke-width="0.9"/>
<line x1="292.60" y1="54.90" x2="296.40" y2="54.90" stroke="#000" stroke-width="0.9"/>
<line x1="294.60" y1="48.44" x2="296.40" y2="48.44" stroke="#000" stroke-width="0.9"/>
<line x1="294.60" y1="41.98" x2="296.40" y2="41.98" stroke="#000" stroke-width="0.9"/>
<line x1="294.60" y1="35.52" x2="296.40" y2="35.52" stroke="#000" stroke-width="0.9"/>
<line x1="294.60" y1="29.06" x2="296.40" y2="29.06" stroke="#000" stroke-width="0.9"/>
<line x1="292.60" y1="22.60" x2="296.40" y2="22.60" stroke="#000" stroke-width="0.9"/>
<text x="290.30" y="184.10" font-size="7.2" font-weight="normal" fill="#222" text-anchor="middle" transform="rotate(-90 290.29999999999995 184.1)" textLength="3.2" lengthAdjust="spacingAndGlyphs">0</text>
<text x="290.30" y="151.80" font-size="7.2" font-weight="normal" fill="#222" text-anchor="middle" transform="rotate(-90 290.29999999999995 151.8)" textLength="6.3" lengthAdjust="spacingAndGlyphs">20</text>
<text x="290.30" y="119.50" font-size="7.2" font-weight="normal" fill="#222" text-anchor="middle" transform="rotate(-90 290.29999999999995 119.5)" textLength="6.3" lengthAdjust="spacingAndGlyphs">40</text>
<text x="290.30" y="87.20" font-size="7.2" font-weight="normal" fill="#222" text-anchor="middle" transform="rotate(-90 290.29999999999995 87.19999999999999)" textLength="6.3" lengthAdjust="spacingAndGlyphs">60</text>
<text x="290.30" y="54.90" font-size="7.2" font-weight="normal" fill="#222" text-anchor="middle" transform="rotate(-90 290.29999999999995 54.900000000000006)" textLength="6.3" lengthAdjust="spacingAndGlyphs">80</text>
<text x="290.30" y="22.60" font-size="7.2" font-weight="normal" fill="#222" text-anchor="middle" transform="rotate(-90 290.29999999999995 22.599999999999994)" textLength="9.6" lengthAdjust="spacingAndGlyphs">100</text>
<line x1="312.62" y1="184.10" x2="312.62" y2="185.90" stroke="#000" stroke-width="0.8"/>
<line x1="322.10" y1="184.10" x2="322.10" y2="185.90" stroke="#000" stroke-width="0.8"/>
<line x1="328.84" y1="184.10" x2="328.84" y2="185.90" stroke="#000" stroke-width="0.8"/>
<line x1="334.06" y1="184.10" x2="334.06" y2="185.90" stroke="#000" stroke-width="0.8"/>
<line x1="338.32" y1="184.10" x2="338.32" y2="185.90" stroke="#000" stroke-width="0.8"/>
<line x1="341.93" y1="184.10" x2="341.93" y2="185.90" stroke="#000" stroke-width="0.8"/>
<line x1="345.05" y1="184.10" x2="345.05" y2="185.90" stroke="#000" stroke-width="0.8"/>
<line x1="347.81" y1="184.10" x2="347.81" y2="185.90" stroke="#000" stroke-width="0.8"/>
<line x1="366.49" y1="184.10" x2="366.49" y2="185.90" stroke="#000" stroke-width="0.8"/>
<line x1="375.98" y1="184.10" x2="375.98" y2="185.90" stroke="#000" stroke-width="0.8"/>
<line x1="382.71" y1="184.10" x2="382.71" y2="185.90" stroke="#000" stroke-width="0.8"/>
<line x1="387.93" y1="184.10" x2="387.93" y2="185.90" stroke="#000" stroke-width="0.8"/>
<line x1="392.20" y1="184.10" x2="392.20" y2="185.90" stroke="#000" stroke-width="0.8"/>
<line x1="395.80" y1="184.10" x2="395.80" y2="185.90" stroke="#000" stroke-width="0.8"/>
<line x1="398.93" y1="184.10" x2="398.93" y2="185.90" stroke="#000" stroke-width="0.8"/>
<line x1="401.68" y1="184.10" x2="401.68" y2="185.90" stroke="#000" stroke-width="0.8"/>
<line x1="420.37" y1="184.10" x2="420.37" y2="185.90" stroke="#000" stroke-width="0.8"/>
<line x1="429.85" y1="184.10" x2="429.85" y2="185.90" stroke="#000" stroke-width="0.8"/>
<line x1="436.59" y1="184.10" x2="436.59" y2="185.90" stroke="#000" stroke-width="0.8"/>
<line x1="441.81" y1="184.10" x2="441.81" y2="185.90" stroke="#000" stroke-width="0.8"/>
<line x1="446.07" y1="184.10" x2="446.07" y2="185.90" stroke="#000" stroke-width="0.8"/>
<line x1="449.68" y1="184.10" x2="449.68" y2="185.90" stroke="#000" stroke-width="0.8"/>
<line x1="452.80" y1="184.10" x2="452.80" y2="185.90" stroke="#000" stroke-width="0.8"/>
<line x1="455.56" y1="184.10" x2="455.56" y2="185.90" stroke="#000" stroke-width="0.8"/>
<line x1="474.24" y1="184.10" x2="474.24" y2="185.90" stroke="#000" stroke-width="0.8"/>
<line x1="483.73" y1="184.10" x2="483.73" y2="185.90" stroke="#000" stroke-width="0.8"/>
<line x1="490.46" y1="184.10" x2="490.46" y2="185.90" stroke="#000" stroke-width="0.8"/>
<line x1="495.68" y1="184.10" x2="495.68" y2="185.90" stroke="#000" stroke-width="0.8"/>
<line x1="499.95" y1="184.10" x2="499.95" y2="185.90" stroke="#000" stroke-width="0.8"/>
<line x1="503.55" y1="184.10" x2="503.55" y2="185.90" stroke="#000" stroke-width="0.8"/>
<line x1="506.68" y1="184.10" x2="506.68" y2="185.90" stroke="#000" stroke-width="0.8"/>
<line x1="509.43" y1="184.10" x2="509.43" y2="185.90" stroke="#000" stroke-width="0.8"/>
<line x1="296.40" y1="184.10" x2="296.40" y2="186.60" stroke="#000" stroke-width="0.9"/>
<text x="292.10" y="194.30" font-size="7.5" font-weight="normal" fill="#222" text-anchor="start" textLength="6.5" lengthAdjust="spacingAndGlyphs">10</text>
<text x="299.00" y="190.40" font-size="7.2" font-weight="normal" fill="#222" text-anchor="start" textLength="2.6" lengthAdjust="spacingAndGlyphs">0</text>
<line x1="350.27" y1="184.10" x2="350.27" y2="186.60" stroke="#000" stroke-width="0.9"/>
<text x="345.97" y="194.30" font-size="7.5" font-weight="normal" fill="#222" text-anchor="start" textLength="6.5" lengthAdjust="spacingAndGlyphs">10</text>
<text x="352.88" y="190.40" font-size="7.2" font-weight="normal" fill="#222" text-anchor="start" textLength="2.6" lengthAdjust="spacingAndGlyphs">1</text>
<line x1="404.15" y1="184.10" x2="404.15" y2="186.60" stroke="#000" stroke-width="0.9"/>
<text x="399.85" y="194.30" font-size="7.5" font-weight="normal" fill="#222" text-anchor="start" textLength="6.5" lengthAdjust="spacingAndGlyphs">10</text>
<text x="406.75" y="190.40" font-size="7.2" font-weight="normal" fill="#222" text-anchor="start" textLength="2.6" lengthAdjust="spacingAndGlyphs">2</text>
<line x1="458.02" y1="184.10" x2="458.02" y2="186.60" stroke="#000" stroke-width="0.9"/>
<text x="453.72" y="194.30" font-size="7.5" font-weight="normal" fill="#222" text-anchor="start" textLength="6.5" lengthAdjust="spacingAndGlyphs">10</text>
<text x="460.62" y="190.40" font-size="7.2" font-weight="normal" fill="#222" text-anchor="start" textLength="2.6" lengthAdjust="spacingAndGlyphs">3</text>
<line x1="511.90" y1="184.10" x2="511.90" y2="186.60" stroke="#000" stroke-width="0.9"/>
<text x="507.60" y="194.30" font-size="7.5" font-weight="normal" fill="#222" text-anchor="start" textLength="6.5" lengthAdjust="spacingAndGlyphs">10</text>
<text x="514.50" y="190.40" font-size="7.2" font-weight="normal" fill="#222" text-anchor="start" textLength="2.6" lengthAdjust="spacingAndGlyphs">4</text>
<text x="277.00" y="90.30" font-size="13.5" font-weight="bold" fill="#000" text-anchor="middle" transform="rotate(-90 277 90.3)" stroke="#000" stroke-width="0.3">Cell&#160;&#160;Number</text>
<text x="350.50" y="214.50" font-size="13.5" font-weight="bold" fill="#000" text-anchor="start" stroke="#000" stroke-width="0.3">Fluorescence Intensity</text>
<text x="506.00" y="39.50" font-size="15.8" font-weight="normal" fill="#000" text-anchor="end">A549</text>
<text x="298.80" y="61.90" font-size="13.3" font-weight="bold" fill="#000" text-anchor="start" stroke="#000" stroke-width="0.25">HI-NHS</text>
<text x="434.50" y="77.50" font-size="13.3" font-weight="bold" fill="#000" text-anchor="start" stroke="#000" stroke-width="0.25">NHS +</text>
<text x="434.00" y="95.00" font-size="13.3" font-weight="bold" fill="#000" text-anchor="start" stroke="#000" stroke-width="0.25">anti-FH</text>
<text x="360.60" y="103.50" font-size="13.3" font-weight="bold" fill="#000" text-anchor="start" stroke="#000" stroke-width="0.25">NHS</text>
<line x1="316.30" y1="67.70" x2="316.30" y2="95.80" stroke="#000" stroke-width="1.85"/>
<path d="M316.30,100.00 L313.90,94.80 L318.70,94.80 Z" fill="#000"/>
<line x1="390.80" y1="105.80" x2="407.16" y2="141.88" stroke="#000" stroke-width="1.85"/>
<path d="M408.90,145.70 L404.57,141.96 L408.94,139.97 Z" fill="#000"/>
<line x1="460.40" y1="98.00" x2="459.96" y2="131.20" stroke="#000" stroke-width="1.85"/>
<path d="M459.90,135.40 L457.57,130.17 L462.37,130.23 Z" fill="#000"/>
<text x="-0.50" y="251.50" font-size="20.1" font-weight="bold" fill="#000" text-anchor="start" stroke="#000" stroke-width="0.35">C</text>
<path d="M38.50,423.83 L39.20,420.17 L39.90,419.18 L40.60,418.38 L41.30,414.75 L42.00,416.01 L42.70,409.77 L43.40,410.96 L44.10,410.73 L44.80,407.84 L45.50,410.29 L46.20,405.53 L46.90,403.19 L47.60,401.72 L48.30,400.85 L49.00,402.90 L49.70,397.55 L50.40,400.29 L51.10,394.06 L51.80,394.66 L52.50,393.33 L53.20,386.60 L53.90,380.66 L54.60,380.39 L55.30,385.17 L56.00,383.64 L56.70,383.98 L57.40,380.90 L58.10,376.40 L58.80,373.44 L59.50,376.00 L60.20,373.02 L60.90,376.90 L61.60,373.15 L62.30,363.84 L63.00,362.26 L63.70,364.67 L64.40,349.67 L65.10,366.89 L65.80,373.08 L66.50,377.21 L67.20,370.50 L67.90,377.71 L68.60,371.86 L69.30,378.78 L70.00,375.63 L70.70,370.17 L71.40,375.74 L72.10,379.81 L72.80,379.82 L73.50,387.78 L74.20,378.23 L74.90,384.10 L75.60,383.79 L76.30,382.96 L77.00,379.56 L77.70,383.92 L78.40,385.51 L79.10,383.53 L79.80,386.36 L80.50,384.89 L81.20,388.22 L81.90,389.00 L82.60,396.98 L83.30,394.43 L84.00,394.20 L84.70,394.25 L85.40,398.47 L86.10,397.04 L86.80,396.88 L87.50,402.99 L88.20,404.04 L88.90,405.18 L89.60,404.13 L90.30,408.21 L91.00,407.18 L91.70,409.39 L92.40,411.57 L93.10,413.42 L93.80,406.85 L94.50,408.99 L95.20,409.76 L95.90,414.39 L96.60,410.88 L97.30,413.18 L98.00,414.92 L98.70,414.25 L99.40,414.48 L100.10,411.85 L100.80,414.18 L101.50,414.69 L102.20,414.24 L102.90,414.47 L103.60,416.99 L104.30,414.10 L105.00,415.55 L105.70,414.82 L106.40,414.26 L107.10,416.96 L107.80,414.07 L108.50,417.41 L109.20,417.55 L109.90,419.88 L110.60,416.08 L111.30,418.00 L112.00,418.59 L112.70,418.75 L113.40,417.77 L114.10,417.44 L114.80,418.02 L115.50,419.17 L116.20,419.75 L116.90,421.07 L117.60,420.08 L118.30,419.26 L119.00,420.20 L119.70,418.38 L120.40,419.40 L121.10,420.64 L121.80,420.18 L122.50,420.60 L123.20,421.53 L123.90,421.37 L124.60,422.39 L125.30,421.69 L126.00,420.88 L126.70,422.01 L127.40,420.70 L128.10,422.05 L128.80,421.58 L129.50,421.87 L129.50,424.70 L38.50,424.70 Z" fill="#dadada" stroke="none"/>
<path d="M38.50,423.83 L39.20,420.17 L39.90,419.18 L40.60,418.38 L41.30,414.75 L42.00,416.01 L42.70,409.77 L43.40,410.96 L44.10,410.73 L44.80,407.84 L45.50,410.29 L46.20,405.53 L46.90,403.19 L47.60,401.72 L48.30,400.85 L49.00,402.90 L49.70,397.55 L50.40,400.29 L51.10,394.06 L51.80,394.66 L52.50,393.33 L53.20,386.60 L53.90,380.66 L54.60,380.39 L55.30,385.17 L56.00,383.64 L56.70,383.98 L57.40,380.90 L58.10,376.40 L58.80,373.44 L59.50,376.00 L60.20,373.02 L60.90,376.90 L61.60,373.15 L62.30,363.84 L63.00,362.26 L63.70,364.67 L64.40,349.67 L65.10,366.89 L65.80,373.08 L66.50,377.21 L67.20,370.50 L67.90,377.71 L68.60,371.86 L69.30,378.78 L70.00,375.63 L70.70,370.17 L71.40,375.74 L72.10,379.81 L72.80,379.82 L73.50,387.78 L74.20,378.23 L74.90,384.10 L75.60,383.79 L76.30,382.96 L77.00,379.56 L77.70,383.92 L78.40,385.51 L79.10,383.53 L79.80,386.36 L80.50,384.89 L81.20,388.22 L81.90,389.00 L82.60,396.98 L83.30,394.43 L84.00,394.20 L84.70,394.25 L85.40,398.47 L86.10,397.04 L86.80,396.88 L87.50,402.99 L88.20,404.04 L88.90,405.18 L89.60,404.13 L90.30,408.21 L91.00,407.18 L91.70,409.39 L92.40,411.57 L93.10,413.42 L93.80,406.85 L94.50,408.99 L95.20,409.76 L95.90,414.39 L96.60,410.88 L97.30,413.18 L98.00,414.92 L98.70,414.25 L99.40,414.48 L100.10,411.85 L100.80,414.18 L101.50,414.69 L102.20,414.24 L102.90,414.47 L103.60,416.99 L104.30,414.10 L105.00,415.55 L105.70,414.82 L106.40,414.26 L107.10,416.96 L107.80,414.07 L108.50,417.41 L109.20,417.55 L109.90,419.88 L110.60,416.08 L111.30,418.00 L112.00,418.59 L112.70,418.75 L113.40,417.77 L114.10,417.44 L114.80,418.02 L115.50,419.17 L116.20,419.75 L116.90,421.07 L117.60,420.08 L118.30,419.26 L119.00,420.20 L119.70,418.38 L120.40,419.40 L121.10,420.64 L121.80,420.18 L122.50,420.60 L123.20,421.53 L123.90,421.37 L124.60,422.39 L125.30,421.69 L126.00,420.88 L126.70,422.01 L127.40,420.70 L128.10,422.05 L128.80,421.58 L129.50,421.87" fill="none" stroke="#111" stroke-width="1.15" stroke-linejoin="round"/>
<path d="M100.00,422.83 L100.70,422.67 L101.40,423.29 L102.10,423.32 L102.80,422.94 L103.50,422.52 L104.20,422.91 L104.90,423.38 L105.60,423.26 L106.30,423.04 L107.00,422.73 L107.70,423.01 L108.40,423.11 L109.10,423.07 L109.80,422.94 L110.50,423.22 L111.20,422.99 L111.90,422.90 L112.60,422.48 L113.30,422.99 L114.00,422.67 L114.70,423.28 L115.40,422.70 L116.10,422.90 L116.80,423.12 L117.50,422.95 L118.20,422.66 L118.90,423.04 L119.60,422.61 L120.30,422.45 L121.00,422.42 L121.70,422.41 L122.40,423.31 L123.10,422.80 L123.80,423.12 L124.50,422.60 L125.20,422.87 L125.90,422.82 L126.60,422.74 L127.30,423.07 L128.00,422.84 L128.70,423.10 L129.40,422.21 L130.10,423.01 L130.80,422.85 L131.50,423.41 L132.20,423.32 L132.90,423.11 L133.60,422.58 L134.30,422.59 L135.00,422.74 L135.70,423.03 L136.40,422.23 L137.10,423.15 L137.80,423.09 L138.50,422.65 L139.20,423.12 L139.90,422.71 L140.60,422.48 L141.30,422.81 L142.00,422.65 L142.70,422.77 L143.40,422.99 L144.10,423.81 L144.80,423.16 L145.50,422.76 L146.20,423.29 L146.90,422.94 L147.60,422.68 L148.30,422.30 L149.00,423.19 L149.70,422.91 L150.40,422.66 L151.10,422.56 L151.80,423.19 L152.50,422.11 L153.20,423.00 L153.90,422.37 L154.60,422.80 L155.30,422.60 L156.00,422.18 L156.70,422.50 L157.40,422.69 L158.10,423.06 L158.80,422.95 L159.50,423.20 L160.20,422.06 L160.90,423.25 L161.60,423.59 L162.30,422.18 L163.00,422.31 L163.70,422.85 L164.40,422.45 L165.10,423.00 L165.80,422.92 L166.50,422.56 L167.20,422.60 L167.90,422.88 L168.60,422.19 L169.30,422.49 L170.00,422.68 L170.70,423.13 L171.40,422.69 L172.10,422.84 L172.80,422.76 L173.50,422.46 L174.20,422.92 L174.90,422.64 L175.60,422.47 L176.30,422.61 L177.00,421.97 L177.70,423.31 L178.40,422.75 L179.10,423.13 L179.80,422.75 L180.50,421.89 L181.20,423.28 L181.90,422.83 L182.60,422.51 L183.30,422.70 L184.00,422.43 L184.70,423.25 L185.40,422.41 L186.10,423.05 L186.80,423.14 L187.50,422.54 L188.20,422.57 L188.90,422.98 L189.60,423.01 L190.30,422.80 L191.00,422.74 L191.70,422.79 L192.40,423.07 L193.10,423.51 L193.80,422.30 L194.50,422.68 L195.20,423.15 L195.90,423.26 L196.60,422.97 L197.30,422.87 L198.00,423.45 L198.70,422.27 L199.40,422.59 L200.10,422.84 L200.80,422.62 L201.50,422.66 L202.20,422.38 L202.90,422.68 L203.60,422.31 L204.30,422.22 L205.00,422.84 L205.70,422.89 L206.40,423.03 L207.10,422.81 L207.80,422.98 L208.50,422.73 L209.20,422.63 L209.90,422.56 L210.60,423.12 L211.30,422.38 L212.00,422.84 L212.70,422.77 L213.40,422.91 L214.10,423.41 L214.80,422.65 L215.50,423.33 L216.20,422.37 L216.90,422.72 L217.60,422.22 L218.30,422.52 L219.00,422.50 L219.70,422.27 L220.40,422.75 L221.10,422.22 L221.80,422.78 L222.50,422.65 L223.20,422.96 L223.90,422.56 L224.60,422.51 L225.30,422.91 L226.00,423.17 L226.70,422.75 L227.40,422.60 L228.10,422.79 L228.80,423.07 L229.50,422.98 L230.20,422.83 L230.90,423.62 L231.60,422.94 L232.30,422.26 L233.00,423.17 L233.70,422.81 L234.40,422.17 L235.10,422.50 L235.80,422.43 L236.50,422.79 L237.20,423.18 L237.90,421.78 L238.60,422.64 L239.30,422.66 L240.00,422.19 L240.70,422.47 L241.40,422.72 L242.10,423.11 L242.80,422.79 L243.50,422.79 L244.20,422.97 L244.90,423.03 L245.60,423.08 L246.30,422.78 L247.00,422.94 L247.70,422.60 L248.40,422.40" fill="none" stroke="#444" stroke-width="0.8" stroke-linejoin="round"/>
<path d="M33.00,422.59 L33.70,422.78 L34.40,421.69 L35.10,422.59 L35.80,422.68 L36.50,422.61 L37.20,422.90 L37.90,422.96 L38.60,422.58 L39.30,422.88 L40.00,422.50 L40.70,422.81 L41.40,423.29 L42.10,423.14 L42.80,423.00 L43.50,423.35 L44.20,422.77 L44.90,422.83 L45.60,422.46 L46.30,423.01 L47.00,422.81 L47.70,422.57 L48.40,422.52 L49.10,423.06 L49.80,422.28 L50.50,422.93 L51.20,422.38 L51.90,422.83 L52.60,422.87 L53.30,423.12 L54.00,422.78 L54.70,422.01 L55.40,422.94 L56.10,422.27 L56.80,422.34 L57.50,422.86 L58.20,422.40 L58.90,422.32 L59.60,422.84 L60.30,422.90 L61.00,422.40 L61.70,422.63 L62.40,422.09 L63.10,422.61 L63.80,423.09 L64.50,422.76 L65.20,423.10 L65.90,422.51 L66.60,422.53 L67.30,422.87 L68.00,423.01 L68.70,422.47 L69.40,422.86 L70.10,422.37 L70.80,423.04 L71.50,422.83 L72.20,422.91 L72.90,423.06 L73.60,421.91 L74.30,422.23 L75.00,422.93 L75.70,422.50 L76.40,423.29 L77.10,422.36 L77.80,422.41 L78.50,422.85 L79.20,422.85 L79.90,422.67 L80.60,422.60 L81.30,422.85 L82.00,423.00 L82.70,422.82 L83.40,422.87 L84.10,422.50 L84.80,422.71 L85.50,422.67 L86.20,423.25 L86.90,422.86 L87.60,422.86 L88.30,422.90 L89.00,422.78 L89.70,422.83 L90.40,423.21 L91.10,422.45 L91.80,422.46 L92.50,422.90 L93.20,422.55 L93.90,423.02 L94.60,423.13 L95.30,422.80 L96.00,422.26 L96.70,422.77 L97.40,423.21 L98.10,422.66 L98.80,422.91 L99.50,422.96 L100.20,422.62 L100.90,423.25 L101.60,423.25 L102.30,423.13 L103.00,422.32 L103.70,422.61 L104.40,422.82 L105.10,422.83 L105.80,422.38 L106.50,422.17 L107.20,422.79 L107.90,422.45 L108.60,421.75 L109.30,422.30 L110.00,422.59 L110.70,422.35 L111.40,422.41 L112.10,422.21 L112.80,422.29 L113.50,422.56 L114.20,422.42 L114.90,422.23 L115.60,422.58 L116.30,422.30 L117.00,422.63 L117.70,421.86 L118.40,421.73 L119.10,422.56 L119.80,421.94" fill="none" stroke="#000" stroke-width="1.4" stroke-linejoin="round"/>
<path d="M110.00,420.98 L110.70,422.86 L111.40,421.97 L112.10,422.27 L112.80,422.61 L113.50,422.38 L114.20,422.30 L114.90,422.00 L115.60,421.64 L116.30,421.19 L117.00,421.67 L117.70,421.05 L118.40,421.43 L119.10,421.62 L119.80,421.79 L120.50,422.01 L121.20,422.09 L121.90,420.53 L122.60,420.18 L123.30,419.31 L124.00,418.86 L124.70,419.98 L125.40,419.04 L126.10,419.08 L126.80,416.34 L127.50,417.15 L128.20,416.45 L128.90,417.27 L129.60,417.34 L130.30,415.95 L131.00,414.62 L131.70,413.12 L132.40,415.34 L133.10,411.87 L133.80,413.04 L134.50,411.83 L135.20,410.83 L135.90,410.32 L136.60,408.03 L137.30,406.52 L138.00,406.80 L138.70,407.81 L139.40,405.20 L140.10,404.51 L140.80,402.41 L141.50,402.63 L142.20,405.87 L142.90,402.94 L143.60,401.09 L144.30,396.79 L145.00,398.40 L145.70,394.63 L146.40,395.20 L147.10,398.23 L147.80,393.79 L148.50,391.28 L149.20,390.65 L149.90,395.28 L150.60,387.82 L151.30,389.27 L152.00,392.63 L152.70,385.78 L153.40,389.04 L154.10,384.92 L154.80,373.10 L155.50,367.84 L156.20,372.09 L156.90,373.45 L157.60,366.52 L158.30,371.68 L159.00,376.06 L159.70,381.23 L160.40,366.29 L161.10,379.05 L161.80,381.05 L162.50,370.88 L163.20,367.05 L163.90,370.33 L164.60,360.50 L165.30,364.30 L166.00,361.61 L166.70,359.18 L167.40,362.78 L168.10,359.96 L168.80,351.42 L169.50,367.99 L170.20,363.81 L170.90,361.85 L171.60,366.43 L172.30,363.87 L173.00,371.27 L173.70,365.06 L174.40,364.76 L175.10,362.11 L175.80,365.05 L176.50,373.56 L177.20,377.53 L177.90,367.53 L178.60,373.22 L179.30,385.74 L180.00,381.62 L180.70,384.36 L181.40,383.97 L182.10,388.58 L182.80,384.67 L183.50,385.69 L184.20,385.41 L184.90,381.78 L185.60,385.25 L186.30,390.71 L187.00,393.04 L187.70,389.79 L188.40,385.14 L189.10,386.54 L189.80,391.99 L190.50,387.34 L191.20,390.27 L191.90,394.06 L192.60,391.64 L193.30,393.36 L194.00,396.60 L194.70,394.86 L195.40,393.40 L196.10,390.35 L196.80,397.27 L197.50,393.91 L198.20,394.76 L198.90,395.20 L199.60,398.68 L200.30,392.07 L201.00,392.21 L201.70,391.64 L202.40,394.95 L203.10,392.45 L203.80,395.22 L204.50,394.23 L205.20,398.00 L205.90,396.76 L206.60,398.43 L207.30,400.55 L208.00,399.32 L208.70,401.54 L209.40,401.95 L210.10,400.58 L210.80,401.56 L211.50,395.54 L212.20,396.78 L212.90,398.94 L213.60,400.12 L214.30,404.41 L215.00,402.28 L215.70,406.64 L216.40,405.33 L217.10,405.51 L217.80,405.77 L218.50,403.73 L219.20,407.66 L219.90,401.73 L220.60,408.10 L221.30,405.97 L222.00,411.13 L222.70,406.98 L223.40,411.42 L224.10,409.36 L224.80,410.25 L225.50,409.23 L226.20,409.97 L226.90,410.70 L227.60,411.94 L228.30,408.94 L229.00,413.12 L229.70,412.74 L230.40,413.82 L231.10,413.26 L231.80,415.21 L232.50,414.75 L233.20,413.82 L233.90,415.66 L234.60,414.61 L235.30,416.26 L236.00,413.85 L236.70,416.01 L237.40,413.81 L238.10,415.57 L238.80,416.52 L239.50,415.38 L240.20,415.31 L240.90,415.07 L241.60,415.43 L242.30,416.19 L243.00,418.70 L243.70,416.52 L244.40,417.82 L245.10,417.48 L245.80,416.94 L246.50,419.33 L247.20,417.64 L247.90,417.03 L248.60,419.13" fill="none" stroke="#1a1a1a" stroke-width="0.95" stroke-linejoin="round"/>
<path d="M115.00,422.52 L115.70,423.27 L116.40,421.18 L117.10,419.96 L117.80,421.56 L118.50,420.89 L119.20,420.78 L119.90,421.00 L120.60,420.58 L121.30,419.82 L122.00,420.58 L122.70,421.38 L123.40,421.20 L124.10,418.37 L124.80,418.13 L125.50,418.23 L126.20,420.47 L126.90,417.62 L127.60,416.98 L128.30,417.76 L129.00,417.06 L129.70,412.60 L130.40,413.06 L131.10,413.09 L131.80,413.11 L132.50,413.61 L133.20,412.79 L133.90,410.23 L134.60,412.30 L135.30,410.48 L136.00,406.14 L136.70,411.22 L137.40,409.54 L138.10,403.43 L138.80,405.69 L139.50,405.40 L140.20,406.91 L140.90,407.32 L141.60,399.97 L142.30,408.43 L143.00,399.64 L143.70,401.30 L144.40,399.02 L145.10,403.63 L145.80,394.09 L146.50,393.87 L147.20,393.72 L147.90,392.25 L148.60,396.87 L149.30,390.91 L150.00,388.84 L150.70,388.94 L151.40,398.21 L152.10,385.51 L152.80,382.92 L153.50,385.97 L154.20,379.52 L154.90,372.60 L155.60,377.21 L156.30,370.12 L157.00,377.10 L157.70,376.93 L158.40,371.46 L159.10,375.66 L159.80,378.39 L160.50,368.15 L161.20,369.03 L161.90,365.52 L162.60,371.83 L163.30,369.06 L164.00,363.61 L164.70,367.16 L165.40,364.49 L166.10,360.90 L166.80,364.72 L167.50,354.57 L168.20,368.96 L168.90,360.61 L169.60,351.59 L170.30,362.55 L171.00,367.11 L171.70,372.63 L172.40,369.77 L173.10,364.76 L173.80,366.83 L174.50,362.51 L175.20,366.39 L175.90,365.56 L176.60,372.19 L177.30,369.44 L178.00,368.89 L178.70,380.56 L179.40,379.03 L180.10,380.81 L180.80,381.34 L181.50,377.20 L182.20,383.72 L182.90,386.53 L183.60,388.88 L184.30,390.03 L185.00,385.59 L185.70,382.67 L186.40,386.44 L187.10,390.18 L187.80,388.61 L188.50,391.87 L189.20,385.97 L189.90,389.71 L190.60,385.98 L191.30,389.35 L192.00,390.19 L192.70,395.77 L193.40,391.42 L194.10,394.47 L194.80,395.22 L195.50,393.18 L196.20,388.96 L196.90,392.68 L197.60,388.29 L198.30,392.65 L199.00,399.04 L199.70,396.74 L200.40,389.77 L201.10,393.87 L201.80,395.58 L202.50,397.38 L203.20,395.78 L203.90,395.27 L204.60,397.92 L205.30,397.10 L206.00,396.37 L206.70,400.45 L207.40,398.32 L208.10,400.08 L208.80,400.25 L209.50,401.41 L210.20,401.13 L210.90,402.10 L211.60,395.89 L212.30,401.32 L213.00,400.43 L213.70,403.81 L214.40,401.96 L215.10,401.71 L215.80,399.52 L216.50,399.77 L217.20,405.36 L217.90,400.85 L218.60,405.22 L219.30,403.27 L220.00,406.59 L220.70,405.45 L221.40,407.69 L222.10,410.74 L222.80,407.42 L223.50,409.66 L224.20,409.83 L224.90,409.66 L225.60,409.59 L226.30,406.46 L227.00,413.07 L227.70,412.42 L228.40,413.51 L229.10,410.22 L229.80,413.10 L230.50,413.93 L231.20,412.62 L231.90,413.58 L232.60,413.26 L233.30,416.58 L234.00,414.75 L234.70,414.30 L235.40,416.19 L236.10,413.87 L236.80,415.85 L237.50,416.93 L238.20,416.62 L238.90,415.57 L239.60,415.10 L240.30,417.20 L241.00,416.06 L241.70,417.36 L242.40,418.20 L243.10,418.46 L243.80,416.60 L244.50,418.16 L245.20,417.68 L245.90,416.40 L246.60,417.49 L247.30,419.31 L248.00,419.51 L248.70,419.33" fill="none" stroke="#000" stroke-width="2.0" stroke-linejoin="round"/>
<line x1="31.80" y1="338.50" x2="31.80" y2="424.70" stroke="#222" stroke-width="2.4"/>
<rect x="31.00" y="261.60" width="218.20" height="163.10" fill="none" stroke="#1a1a1a" stroke-width="1.15"/>
<line x1="31.00" y1="261.20" x2="31.00" y2="425.20" stroke="#000" stroke-width="1.3"/>
<line x1="30.50" y1="424.70" x2="249.60" y2="424.70" stroke="#000" stroke-width="1.4"/>
<line x1="27.20" y1="424.70" x2="31.00" y2="424.70" stroke="#000" stroke-width="0.9"/>
<line x1="29.20" y1="418.18" x2="31.00" y2="418.18" stroke="#000" stroke-width="0.9"/>
<line x1="29.20" y1="411.65" x2="31.00" y2="411.65" stroke="#000" stroke-width="0.9"/>
<line x1="29.20" y1="405.13" x2="31.00" y2="405.13" stroke="#000" stroke-width="0.9"/>
<line x1="29.20" y1="398.60" x2="31.00" y2="398.60" stroke="#000" stroke-width="0.9"/>
<line x1="27.20" y1="392.08" x2="31.00" y2="392.08" stroke="#000" stroke-width="0.9"/>
<line x1="29.20" y1="385.56" x2="31.00" y2="385.56" stroke="#000" stroke-width="0.9"/>
<line x1="29.20" y1="379.03" x2="31.00" y2="379.03" stroke="#000" stroke-width="0.9"/>
<line x1="29.20" y1="372.51" x2="31.00" y2="372.51" stroke="#000" stroke-width="0.9"/>
<line x1="29.20" y1="365.98" x2="31.00" y2="365.98" stroke="#000" stroke-width="0.9"/>
<line x1="27.20" y1="359.46" x2="31.00" y2="359.46" stroke="#000" stroke-width="0.9"/>
<line x1="29.20" y1="352.94" x2="31.00" y2="352.94" stroke="#000" stroke-width="0.9"/>
<line x1="29.20" y1="346.41" x2="31.00" y2="346.41" stroke="#000" stroke-width="0.9"/>
<line x1="29.20" y1="339.89" x2="31.00" y2="339.89" stroke="#000" stroke-width="0.9"/>
<line x1="29.20" y1="333.36" x2="31.00" y2="333.36" stroke="#000" stroke-width="0.9"/>
<line x1="27.20" y1="326.84" x2="31.00" y2="326.84" stroke="#000" stroke-width="0.9"/>
<line x1="29.20" y1="320.32" x2="31.00" y2="320.32" stroke="#000" stroke-width="0.9"/>
<line x1="29.20" y1="313.79" x2="31.00" y2="313.79" stroke="#000" stroke-width="0.9"/>
<line x1="29.20" y1="307.27" x2="31.00" y2="307.27" stroke="#000" stroke-width="0.9"/>
<line x1="29.20" y1="300.74" x2="31.00" y2="300.74" stroke="#000" stroke-width="0.9"/>
<line x1="27.20" y1="294.22" x2="31.00" y2="294.22" stroke="#000" stroke-width="0.9"/>
<line x1="29.20" y1="287.70" x2="31.00" y2="287.70" stroke="#000" stroke-width="0.9"/>
<line x1="29.20" y1="281.17" x2="31.00" y2="281.17" stroke="#000" stroke-width="0.9"/>
<line x1="29.20" y1="274.65" x2="31.00" y2="274.65" stroke="#000" stroke-width="0.9"/>
<line x1="29.20" y1="268.12" x2="31.00" y2="268.12" stroke="#000" stroke-width="0.9"/>
<line x1="27.20" y1="261.60" x2="31.00" y2="261.60" stroke="#000" stroke-width="0.9"/>
<text x="24.70" y="424.70" font-size="9.0" font-weight="normal" fill="#222" text-anchor="middle" transform="rotate(-90 24.7 424.7)" textLength="4.0" lengthAdjust="spacingAndGlyphs">0</text>
<text x="24.70" y="392.08" font-size="9.0" font-weight="normal" fill="#222" text-anchor="middle" transform="rotate(-90 24.7 392.08)" textLength="8.0" lengthAdjust="spacingAndGlyphs">20</text>
<text x="24.70" y="359.46" font-size="9.0" font-weight="normal" fill="#222" text-anchor="middle" transform="rotate(-90 24.7 359.46000000000004)" textLength="8.0" lengthAdjust="spacingAndGlyphs">40</text>
<text x="24.70" y="326.84" font-size="9.0" font-weight="normal" fill="#222" text-anchor="middle" transform="rotate(-90 24.7 326.84000000000003)" textLength="8.0" lengthAdjust="spacingAndGlyphs">60</text>
<text x="24.70" y="294.22" font-size="9.0" font-weight="normal" fill="#222" text-anchor="middle" transform="rotate(-90 24.7 294.22)" textLength="8.0" lengthAdjust="spacingAndGlyphs">80</text>
<text x="24.70" y="261.60" font-size="9.0" font-weight="normal" fill="#222" text-anchor="middle" transform="rotate(-90 24.7 261.6)" textLength="11.2" lengthAdjust="spacingAndGlyphs">100</text>
<line x1="47.42" y1="424.70" x2="47.42" y2="426.50" stroke="#000" stroke-width="0.8"/>
<line x1="57.03" y1="424.70" x2="57.03" y2="426.50" stroke="#000" stroke-width="0.8"/>
<line x1="63.84" y1="424.70" x2="63.84" y2="426.50" stroke="#000" stroke-width="0.8"/>
<line x1="69.13" y1="424.70" x2="69.13" y2="426.50" stroke="#000" stroke-width="0.8"/>
<line x1="73.45" y1="424.70" x2="73.45" y2="426.50" stroke="#000" stroke-width="0.8"/>
<line x1="77.10" y1="424.70" x2="77.10" y2="426.50" stroke="#000" stroke-width="0.8"/>
<line x1="80.26" y1="424.70" x2="80.26" y2="426.50" stroke="#000" stroke-width="0.8"/>
<line x1="83.05" y1="424.70" x2="83.05" y2="426.50" stroke="#000" stroke-width="0.8"/>
<line x1="101.97" y1="424.70" x2="101.97" y2="426.50" stroke="#000" stroke-width="0.8"/>
<line x1="111.58" y1="424.70" x2="111.58" y2="426.50" stroke="#000" stroke-width="0.8"/>
<line x1="118.39" y1="424.70" x2="118.39" y2="426.50" stroke="#000" stroke-width="0.8"/>
<line x1="123.68" y1="424.70" x2="123.68" y2="426.50" stroke="#000" stroke-width="0.8"/>
<line x1="128.00" y1="424.70" x2="128.00" y2="426.50" stroke="#000" stroke-width="0.8"/>
<line x1="131.65" y1="424.70" x2="131.65" y2="426.50" stroke="#000" stroke-width="0.8"/>
<line x1="134.81" y1="424.70" x2="134.81" y2="426.50" stroke="#000" stroke-width="0.8"/>
<line x1="137.60" y1="424.70" x2="137.60" y2="426.50" stroke="#000" stroke-width="0.8"/>
<line x1="156.52" y1="424.70" x2="156.52" y2="426.50" stroke="#000" stroke-width="0.8"/>
<line x1="166.13" y1="424.70" x2="166.13" y2="426.50" stroke="#000" stroke-width="0.8"/>
<line x1="172.94" y1="424.70" x2="172.94" y2="426.50" stroke="#000" stroke-width="0.8"/>
<line x1="178.23" y1="424.70" x2="178.23" y2="426.50" stroke="#000" stroke-width="0.8"/>
<line x1="182.55" y1="424.70" x2="182.55" y2="426.50" stroke="#000" stroke-width="0.8"/>
<line x1="186.20" y1="424.70" x2="186.20" y2="426.50" stroke="#000" stroke-width="0.8"/>
<line x1="189.36" y1="424.70" x2="189.36" y2="426.50" stroke="#000" stroke-width="0.8"/>
<line x1="192.15" y1="424.70" x2="192.15" y2="426.50" stroke="#000" stroke-width="0.8"/>
<line x1="211.07" y1="424.70" x2="211.07" y2="426.50" stroke="#000" stroke-width="0.8"/>
<line x1="220.68" y1="424.70" x2="220.68" y2="426.50" stroke="#000" stroke-width="0.8"/>
<line x1="227.49" y1="424.70" x2="227.49" y2="426.50" stroke="#000" stroke-width="0.8"/>
<line x1="232.78" y1="424.70" x2="232.78" y2="426.50" stroke="#000" stroke-width="0.8"/>
<line x1="237.10" y1="424.70" x2="237.10" y2="426.50" stroke="#000" stroke-width="0.8"/>
<line x1="240.75" y1="424.70" x2="240.75" y2="426.50" stroke="#000" stroke-width="0.8"/>
<line x1="243.91" y1="424.70" x2="243.91" y2="426.50" stroke="#000" stroke-width="0.8"/>
<line x1="246.70" y1="424.70" x2="246.70" y2="426.50" stroke="#000" stroke-width="0.8"/>
<line x1="31.00" y1="424.70" x2="31.00" y2="427.20" stroke="#000" stroke-width="0.9"/>
<text x="25.40" y="437.00" font-size="9.4" font-weight="normal" fill="#222" text-anchor="start" textLength="7.0" lengthAdjust="spacingAndGlyphs">10</text>
<text x="33.40" y="433.60" font-size="8.8" font-weight="normal" fill="#222" text-anchor="start" textLength="3.5" lengthAdjust="spacingAndGlyphs">0</text>
<line x1="85.55" y1="424.70" x2="85.55" y2="427.20" stroke="#000" stroke-width="0.9"/>
<text x="79.95" y="437.00" font-size="9.4" font-weight="normal" fill="#222" text-anchor="start" textLength="7.0" lengthAdjust="spacingAndGlyphs">10</text>
<text x="87.95" y="433.60" font-size="8.8" font-weight="normal" fill="#222" text-anchor="start" textLength="3.5" lengthAdjust="spacingAndGlyphs">1</text>
<line x1="140.10" y1="424.70" x2="140.10" y2="427.20" stroke="#000" stroke-width="0.9"/>
<text x="134.50" y="437.00" font-size="9.4" font-weight="normal" fill="#222" text-anchor="start" textLength="7.0" lengthAdjust="spacingAndGlyphs">10</text>
<text x="142.50" y="433.60" font-size="8.8" font-weight="normal" fill="#222" text-anchor="start" textLength="3.5" lengthAdjust="spacingAndGlyphs">2</text>
<line x1="194.65" y1="424.70" x2="194.65" y2="427.20" stroke="#000" stroke-width="0.9"/>
<text x="189.05" y="437.00" font-size="9.4" font-weight="normal" fill="#222" text-anchor="start" textLength="7.0" lengthAdjust="spacingAndGlyphs">10</text>
<text x="197.05" y="433.60" font-size="8.8" font-weight="normal" fill="#222" text-anchor="start" textLength="3.5" lengthAdjust="spacingAndGlyphs">3</text>
<line x1="249.20" y1="424.70" x2="249.20" y2="427.20" stroke="#000" stroke-width="0.9"/>
<text x="243.60" y="437.00" font-size="9.4" font-weight="normal" fill="#222" text-anchor="start" textLength="7.0" lengthAdjust="spacingAndGlyphs">10</text>
<text x="251.60" y="433.60" font-size="8.8" font-weight="normal" fill="#222" text-anchor="start" textLength="3.5" lengthAdjust="spacingAndGlyphs">4</text>
<text x="11.30" y="329.70" font-size="13.5" font-weight="bold" fill="#000" text-anchor="middle" transform="rotate(-90 11.3 329.7)" stroke="#000" stroke-width="0.3">Cell&#160;&#160;Number</text>
<text x="84.00" y="456.20" font-size="13.5" font-weight="bold" fill="#000" text-anchor="start" stroke="#000" stroke-width="0.3">Fluorescence Intensity</text>
<text x="245.80" y="277.50" font-size="15.8" font-weight="normal" fill="#000" text-anchor="end">H1264</text>
<text x="44.30" y="305.70" font-size="13.3" font-weight="bold" fill="#000" text-anchor="start" stroke="#000" stroke-width="0.25">HI-NHS</text>
<text x="167.00" y="307.50" font-size="13.3" font-weight="bold" fill="#000" text-anchor="start" stroke="#000" stroke-width="0.25">NHS +</text>
<text x="166.00" y="323.80" font-size="13.3" font-weight="bold" fill="#000" text-anchor="start" stroke="#000" stroke-width="0.25">anti-CD46</text>
<text x="94.60" y="353.50" font-size="13.3" font-weight="bold" fill="#000" text-anchor="start" stroke="#000" stroke-width="0.25">NHS</text>
<line x1="65.30" y1="308.50" x2="65.30" y2="338.40" stroke="#000" stroke-width="1.85"/>
<path d="M65.30,342.60 L62.90,337.40 L67.70,337.40 Z" fill="#000"/>
<line x1="127.00" y1="353.70" x2="149.32" y2="365.98" stroke="#000" stroke-width="1.85"/>
<path d="M153.00,368.00 L147.29,367.60 L149.60,363.39 Z" fill="#000"/>
<line x1="193.70" y1="327.50" x2="197.17" y2="372.11" stroke="#000" stroke-width="1.85"/>
<path d="M197.50,376.30 L194.70,371.30 L199.49,370.93 Z" fill="#000"/>
<text x="271.30" y="251.50" font-size="20.1" font-weight="bold" fill="#000" text-anchor="start" stroke="#000" stroke-width="0.35">D</text>
<path d="M296.50,423.99 L297.20,422.85 L297.90,421.76 L298.60,422.66 L299.30,421.71 L300.00,419.64 L300.70,422.28 L301.40,421.70 L302.10,421.17 L302.80,422.74 L303.50,421.26 L304.20,420.50 L304.90,421.30 L305.60,421.98 L306.30,421.06 L307.00,421.69 L307.70,420.91 L308.40,421.01 L309.10,421.07 L309.80,421.60 L310.50,419.85 L311.20,420.17 L311.90,418.48 L312.60,417.62 L313.30,416.92 L314.00,414.71 L314.70,413.85 L315.40,412.47 L316.10,411.66 L316.80,411.64 L317.50,409.79 L318.20,408.61 L318.90,406.32 L319.60,408.62 L320.30,404.06 L321.00,410.37 L321.70,406.37 L322.40,402.29 L323.10,401.91 L323.80,397.33 L324.50,402.41 L325.20,398.87 L325.90,397.80 L326.60,391.19 L327.30,384.70 L328.00,391.09 L328.70,386.80 L329.40,386.26 L330.10,377.01 L330.80,375.38 L331.50,372.53 L332.20,376.35 L332.90,372.67 L333.60,372.78 L334.30,370.91 L335.00,368.28 L335.70,363.35 L336.40,371.90 L337.10,355.26 L337.80,360.27 L338.50,350.62 L339.20,352.94 L339.90,357.63 L340.60,355.72 L341.30,351.50 L342.00,359.56 L342.70,347.73 L343.40,336.44 L344.10,349.57 L344.80,353.88 L345.50,351.01 L346.20,355.48 L346.90,356.05 L347.60,349.66 L348.30,347.09 L349.00,350.75 L349.70,360.07 L350.40,354.39 L351.10,356.89 L351.80,356.02 L352.50,359.92 L353.20,360.57 L353.90,357.70 L354.60,362.15 L355.30,361.96 L356.00,365.61 L356.70,368.98 L357.40,368.10 L358.10,375.19 L358.80,369.69 L359.50,373.65 L360.20,376.54 L360.90,374.63 L361.60,384.64 L362.30,378.64 L363.00,381.46 L363.70,385.13 L364.40,390.84 L365.10,388.32 L365.80,392.56 L366.50,395.07 L367.20,393.78 L367.90,393.85 L368.60,397.52 L369.30,395.94 L370.00,386.73 L370.70,399.56 L371.40,396.40 L372.10,399.91 L372.80,402.40 L373.50,401.28 L374.20,407.13 L374.90,409.27 L375.60,407.04 L376.30,408.14 L377.00,410.10 L377.70,408.06 L378.40,411.08 L379.10,410.63 L379.80,413.96 L380.50,409.61 L381.20,413.27 L381.90,413.17 L382.60,412.94 L383.30,415.09 L384.00,414.17 L384.70,415.08 L385.40,414.13 L386.10,417.16 L386.80,416.23 L387.50,416.44 L388.20,417.40 L388.90,418.15 L389.60,416.87 L390.30,419.21 L391.00,419.18 L391.70,418.15 L392.40,418.41 L393.10,419.40 L393.80,419.35 L394.50,420.05 L395.20,418.59 L395.90,419.02 L396.60,417.93 L397.30,420.16 L398.00,419.17 L398.70,420.16 L399.40,420.13 L400.10,421.30 L400.80,418.21 L401.50,419.96 L402.20,420.16 L402.90,420.71 L403.60,421.75 L404.30,422.08 L405.00,422.12 L405.70,421.02 L406.40,422.09 L407.10,421.73 L407.80,421.75 L408.50,421.97 L409.20,422.40 L409.90,422.51 L410.60,422.33 L411.30,422.54 L412.00,423.19 L412.00,424.30 L296.50,424.30 Z" fill="#dadada" stroke="none"/>
<path d="M296.50,423.99 L297.20,422.85 L297.90,421.76 L298.60,422.66 L299.30,421.71 L300.00,419.64 L300.70,422.28 L301.40,421.70 L302.10,421.17 L302.80,422.74 L303.50,421.26 L304.20,420.50 L304.90,421.30 L305.60,421.98 L306.30,421.06 L307.00,421.69 L307.70,420.91 L308.40,421.01 L309.10,421.07 L309.80,421.60 L310.50,419.85 L311.20,420.17 L311.90,418.48 L312.60,417.62 L313.30,416.92 L314.00,414.71 L314.70,413.85 L315.40,412.47 L316.10,411.66 L316.80,411.64 L317.50,409.79 L318.20,408.61 L318.90,406.32 L319.60,408.62 L320.30,404.06 L321.00,410.37 L321.70,406.37 L322.40,402.29 L323.10,401.91 L323.80,397.33 L324.50,402.41 L325.20,398.87 L325.90,397.80 L326.60,391.19 L327.30,384.70 L328.00,391.09 L328.70,386.80 L329.40,386.26 L330.10,377.01 L330.80,375.38 L331.50,372.53 L332.20,376.35 L332.90,372.67 L333.60,372.78 L334.30,370.91 L335.00,368.28 L335.70,363.35 L336.40,371.90 L337.10,355.26 L337.80,360.27 L338.50,350.62 L339.20,352.94 L339.90,357.63 L340.60,355.72 L341.30,351.50 L342.00,359.56 L342.70,347.73 L343.40,336.44 L344.10,349.57 L344.80,353.88 L345.50,351.01 L346.20,355.48 L346.90,356.05 L347.60,349.66 L348.30,347.09 L349.00,350.75 L349.70,360.07 L350.40,354.39 L351.10,356.89 L351.80,356.02 L352.50,359.92 L353.20,360.57 L353.90,357.70 L354.60,362.15 L355.30,361.96 L356.00,365.61 L356.70,368.98 L357.40,368.10 L358.10,375.19 L358.80,369.69 L359.50,373.65 L360.20,376.54 L360.90,374.63 L361.60,384.64 L362.30,378.64 L363.00,381.46 L363.70,385.13 L364.40,390.84 L365.10,388.32 L365.80,392.56 L366.50,395.07 L367.20,393.78 L367.90,393.85 L368.60,397.52 L369.30,395.94 L370.00,386.73 L370.70,399.56 L371.40,396.40 L372.10,399.91 L372.80,402.40 L373.50,401.28 L374.20,407.13 L374.90,409.27 L375.60,407.04 L376.30,408.14 L377.00,410.10 L377.70,408.06 L378.40,411.08 L379.10,410.63 L379.80,413.96 L380.50,409.61 L381.20,413.27 L381.90,413.17 L382.60,412.94 L383.30,415.09 L384.00,414.17 L384.70,415.08 L385.40,414.13 L386.10,417.16 L386.80,416.23 L387.50,416.44 L388.20,417.40 L388.90,418.15 L389.60,416.87 L390.30,419.21 L391.00,419.18 L391.70,418.15 L392.40,418.41 L393.10,419.40 L393.80,419.35 L394.50,420.05 L395.20,418.59 L395.90,419.02 L396.60,417.93 L397.30,420.16 L398.00,419.17 L398.70,420.16 L399.40,420.13 L400.10,421.30 L400.80,418.21 L401.50,419.96 L402.20,420.16 L402.90,420.71 L403.60,421.75 L404.30,422.08 L405.00,422.12 L405.70,421.02 L406.40,422.09 L407.10,421.73 L407.80,421.75 L408.50,421.97 L409.20,422.40 L409.90,422.51 L410.60,422.33 L411.30,422.54 L412.00,423.19" fill="none" stroke="#111" stroke-width="1.15" stroke-linejoin="round"/>
<path d="M380.00,422.53 L380.70,422.66 L381.40,423.02 L382.10,422.37 L382.80,422.55 L383.50,422.53 L384.20,422.58 L384.90,422.12 L385.60,422.33 L386.30,422.22 L387.00,422.70 L387.70,422.75 L388.40,422.93 L389.10,422.67 L389.80,423.48 L390.50,422.04 L391.20,422.53 L391.90,422.54 L392.60,422.28 L393.30,422.68 L394.00,422.47 L394.70,422.29 L395.40,423.07 L396.10,421.95 L396.80,422.48 L397.50,422.32 L398.20,422.87 L398.90,422.72 L399.60,421.93 L400.30,422.68 L401.00,422.63 L401.70,422.33 L402.40,421.99 L403.10,423.31 L403.80,421.96 L404.50,422.37 L405.20,422.15 L405.90,422.81 L406.60,422.34 L407.30,421.88 L408.00,422.47 L408.70,422.65 L409.40,422.58 L410.10,422.61 L410.80,422.14 L411.50,422.34 L412.20,422.58 L412.90,422.12 L413.60,422.78 L414.30,422.90 L415.00,421.51 L415.70,422.60 L416.40,421.79 L417.10,422.40 L417.80,422.44 L418.50,422.16 L419.20,422.65 L419.90,422.64 L420.60,422.42 L421.30,422.48 L422.00,422.08 L422.70,421.64 L423.40,422.76 L424.10,422.66 L424.80,422.07 L425.50,422.16 L426.20,421.94 L426.90,422.61 L427.60,422.13 L428.30,422.36 L429.00,422.93 L429.70,422.18 L430.40,422.90 L431.10,422.15 L431.80,422.50 L432.50,422.41 L433.20,421.57 L433.90,421.79 L434.60,422.19 L435.30,422.20 L436.00,422.62 L436.70,421.89 L437.40,422.12 L438.10,422.65 L438.80,422.94 L439.50,422.34 L440.20,422.40 L440.90,422.03 L441.60,422.71 L442.30,422.66 L443.00,422.19 L443.70,422.31 L444.40,422.00 L445.10,421.94 L445.80,422.66 L446.50,423.19 L447.20,422.32 L447.90,422.60 L448.60,422.25 L449.30,423.32 L450.00,422.38 L450.70,422.31 L451.40,422.54 L452.10,422.15 L452.80,422.30 L453.50,422.26 L454.20,421.87 L454.90,421.87 L455.60,421.91 L456.30,422.20 L457.00,422.29 L457.70,422.14 L458.40,422.23 L459.10,422.60 L459.80,422.20 L460.50,422.01 L461.20,422.49 L461.90,422.73 L462.60,422.13 L463.30,422.61 L464.00,422.87 L464.70,422.43 L465.40,422.87 L466.10,422.22 L466.80,422.52 L467.50,422.31 L468.20,421.93 L468.90,421.94 L469.60,422.37 L470.30,423.15 L471.00,422.51 L471.70,422.76 L472.40,422.02 L473.10,421.78 L473.80,422.09 L474.50,422.11 L475.20,422.14 L475.90,422.09 L476.60,422.47 L477.30,422.02 L478.00,422.45 L478.70,422.75 L479.40,422.32 L480.10,421.77 L480.80,422.41 L481.50,422.97 L482.20,421.89 L482.90,422.25 L483.60,422.14 L484.30,422.51 L485.00,422.17 L485.70,421.76 L486.40,422.57 L487.10,422.09 L487.80,422.21 L488.50,422.65 L489.20,422.27 L489.90,422.13 L490.60,422.64 L491.30,421.92 L492.00,422.74 L492.70,421.92 L493.40,422.12 L494.10,422.25 L494.80,422.62 L495.50,422.62 L496.20,423.13 L496.90,422.35 L497.60,422.38 L498.30,422.14 L499.00,421.97 L499.70,422.27 L500.40,422.46 L501.10,421.98 L501.80,422.34 L502.50,422.35 L503.20,422.76 L503.90,421.96 L504.60,422.58 L505.30,421.64 L506.00,422.65 L506.70,422.51 L507.40,422.31 L508.10,422.59 L508.80,422.86 L509.50,422.75 L510.20,422.63 L510.90,422.42 L511.60,421.99 L512.30,422.10 L513.00,422.22" fill="none" stroke="#444" stroke-width="0.8" stroke-linejoin="round"/>
<path d="M395.00,422.61 L395.70,422.18 L396.40,421.59 L397.10,422.19 L397.80,422.44 L398.50,422.72 L399.20,421.30 L399.90,421.81 L400.60,422.06 L401.30,422.23 L402.00,423.13 L402.70,421.48 L403.40,422.09 L404.10,421.49 L404.80,420.46 L405.50,421.61 L406.20,421.43 L406.90,420.67 L407.60,421.40 L408.30,421.13 L409.00,421.97 L409.70,421.76 L410.40,422.14 L411.10,420.05 L411.80,419.59 L412.50,420.67 L413.20,420.17 L413.90,420.16 L414.60,417.29 L415.30,418.36 L416.00,418.91 L416.70,417.64 L417.40,416.48 L418.10,418.49 L418.80,416.24 L419.50,415.77 L420.20,415.71 L420.90,413.25 L421.60,411.11 L422.30,411.41 L423.00,410.63 L423.70,406.93 L424.40,406.69 L425.10,404.43 L425.80,399.32 L426.50,400.97 L427.20,400.27 L427.90,401.74 L428.60,395.36 L429.30,393.19 L430.00,390.30 L430.70,388.20 L431.40,385.50 L432.10,384.94 L432.80,383.99 L433.50,381.21 L434.20,384.36 L434.90,384.17 L435.60,383.05 L436.30,377.78 L437.00,383.65 L437.70,376.81 L438.40,373.68 L439.10,369.65 L439.80,373.31 L440.50,366.64 L441.20,364.99 L441.90,366.44 L442.60,362.57 L443.30,362.57 L444.00,365.82 L444.70,361.08 L445.40,351.09 L446.10,349.40 L446.80,359.35 L447.50,361.00 L448.20,364.69 L448.90,357.42 L449.60,355.73 L450.30,357.58 L451.00,364.61 L451.70,363.19 L452.40,363.67 L453.10,357.74 L453.80,362.92 L454.50,359.93 L455.20,351.81 L455.90,369.76 L456.60,362.99 L457.30,363.15 L458.00,371.59 L458.70,362.09 L459.40,369.65 L460.10,368.77 L460.80,369.80 L461.50,368.38 L462.20,378.19 L462.90,379.43 L463.60,383.14 L464.30,384.33 L465.00,374.72 L465.70,384.11 L466.40,389.80 L467.10,383.05 L467.80,381.44 L468.50,391.87 L469.20,390.77 L469.90,396.41 L470.60,399.74 L471.30,396.44 L472.00,400.72 L472.70,402.03 L473.40,399.62 L474.10,399.25 L474.80,401.23 L475.50,398.30 L476.20,403.26 L476.90,403.09 L477.60,400.91 L478.30,398.53 L479.00,399.60 L479.70,402.46 L480.40,404.53 L481.10,407.81 L481.80,402.27 L482.50,405.67 L483.20,401.05 L483.90,405.84 L484.60,410.06 L485.30,404.23 L486.00,406.31 L486.70,407.93 L487.40,406.80 L488.10,407.32 L488.80,407.00 L489.50,411.11 L490.20,407.96 L490.90,407.37 L491.60,410.63 L492.30,406.21 L493.00,409.02 L493.70,412.57 L494.40,406.27 L495.10,409.94 L495.80,409.38 L496.50,409.99 L497.20,406.49 L497.90,409.54 L498.60,410.32 L499.30,409.73 L500.00,406.96 L500.70,406.36 L501.40,408.26 L502.10,404.59 L502.80,407.30 L503.50,405.07 L504.20,403.75 L504.90,403.74 L505.60,403.23 L506.30,402.67 L507.00,403.88 L507.70,401.45 L508.40,399.65 L509.10,402.04 L509.80,401.15 L510.50,395.13 L511.20,394.79 L511.90,393.68 L512.60,391.45" fill="none" stroke="#1a1a1a" stroke-width="0.95" stroke-linejoin="round"/>
<path d="M395.00,423.28 L395.70,422.76 L396.40,422.07 L397.10,423.45 L397.80,422.25 L398.50,422.87 L399.20,422.05 L399.90,422.68 L400.60,422.57 L401.30,422.26 L402.00,422.73 L402.70,422.44 L403.40,422.51 L404.10,421.69 L404.80,422.21 L405.50,423.11 L406.20,421.93 L406.90,421.84 L407.60,421.82 L408.30,420.87 L409.00,420.90 L409.70,422.34 L410.40,420.39 L411.10,421.43 L411.80,421.29 L412.50,421.22 L413.20,420.81 L413.90,419.99 L414.60,421.35 L415.30,420.42 L416.00,420.79 L416.70,420.32 L417.40,420.40 L418.10,419.44 L418.80,419.17 L419.50,420.55 L420.20,419.30 L420.90,420.55 L421.60,418.47 L422.30,417.42 L423.00,417.95 L423.70,414.63 L424.40,416.25 L425.10,417.25 L425.80,415.21 L426.50,415.93 L427.20,413.68 L427.90,413.88 L428.60,412.99 L429.30,416.40 L430.00,412.98 L430.70,409.87 L431.40,408.92 L432.10,407.73 L432.80,407.55 L433.50,405.01 L434.20,404.00 L434.90,403.75 L435.60,401.30 L436.30,400.67 L437.00,402.67 L437.70,399.24 L438.40,396.28 L439.10,396.92 L439.80,399.78 L440.50,392.94 L441.20,389.22 L441.90,396.22 L442.60,391.39 L443.30,388.89 L444.00,377.58 L444.70,378.77 L445.40,381.39 L446.10,375.75 L446.80,376.67 L447.50,382.65 L448.20,377.22 L448.90,370.82 L449.60,374.59 L450.30,363.11 L451.00,375.58 L451.70,375.96 L452.40,375.93 L453.10,375.54 L453.80,376.51 L454.50,372.10 L455.20,369.20 L455.90,376.69 L456.60,380.52 L457.30,374.67 L458.00,371.34 L458.70,363.34 L459.40,366.02 L460.10,367.30 L460.80,354.65 L461.50,371.01 L462.20,370.47 L462.90,357.85 L463.60,360.64 L464.30,362.65 L465.00,367.84 L465.70,359.31 L466.40,358.73 L467.10,362.50 L467.80,326.68 L468.50,339.70 L469.20,353.45 L469.90,365.11 L470.60,355.43 L471.30,365.62 L472.00,366.69 L472.70,364.02 L473.40,367.90 L474.10,361.81 L474.80,370.09 L475.50,366.42 L476.20,365.63 L476.90,367.20 L477.60,369.51 L478.30,376.19 L479.00,370.09 L479.70,380.29 L480.40,384.17 L481.10,383.32 L481.80,380.31 L482.50,393.93 L483.20,391.16 L483.90,386.17 L484.60,391.22 L485.30,396.32 L486.00,391.65 L486.70,392.70 L487.40,395.74 L488.10,399.74 L488.80,397.93 L489.50,399.52 L490.20,394.98 L490.90,401.67 L491.60,404.05 L492.30,399.26 L493.00,401.18 L493.70,397.96 L494.40,407.33 L495.10,402.53 L495.80,400.35 L496.50,402.84 L497.20,401.34 L497.90,403.29 L498.60,397.34 L499.30,404.04 L500.00,400.61 L500.70,400.59 L501.40,400.17 L502.10,397.90 L502.80,399.45 L503.50,397.68 L504.20,395.44 L504.90,394.97 L505.60,391.84 L506.30,396.16 L507.00,387.44 L507.70,396.38 L508.40,395.33 L509.10,391.36 L509.80,390.81 L510.50,382.30 L511.20,379.70 L511.90,375.60" fill="none" stroke="#000" stroke-width="2.1" stroke-linejoin="round"/>
<line x1="512.20" y1="326.00" x2="512.20" y2="424.00" stroke="#222" stroke-width="2.0"/>
<rect x="296.40" y="261.60" width="216.50" height="162.70" fill="none" stroke="#1a1a1a" stroke-width="1.15"/>
<line x1="296.40" y1="261.20" x2="296.40" y2="424.80" stroke="#000" stroke-width="1.3"/>
<line x1="295.90" y1="424.30" x2="513.30" y2="424.30" stroke="#000" stroke-width="1.4"/>
<line x1="292.60" y1="424.30" x2="296.40" y2="424.30" stroke="#000" stroke-width="0.9"/>
<line x1="294.60" y1="417.79" x2="296.40" y2="417.79" stroke="#000" stroke-width="0.9"/>
<line x1="294.60" y1="411.28" x2="296.40" y2="411.28" stroke="#000" stroke-width="0.9"/>
<line x1="294.60" y1="404.78" x2="296.40" y2="404.78" stroke="#000" stroke-width="0.9"/>
<line x1="294.60" y1="398.27" x2="296.40" y2="398.27" stroke="#000" stroke-width="0.9"/>
<line x1="292.60" y1="391.76" x2="296.40" y2="391.76" stroke="#000" stroke-width="0.9"/>
<line x1="294.60" y1="385.25" x2="296.40" y2="385.25" stroke="#000" stroke-width="0.9"/>
<line x1="294.60" y1="378.74" x2="296.40" y2="378.74" stroke="#000" stroke-width="0.9"/>
<line x1="294.60" y1="372.24" x2="296.40" y2="372.24" stroke="#000" stroke-width="0.9"/>
<line x1="294.60" y1="365.73" x2="296.40" y2="365.73" stroke="#000" stroke-width="0.9"/>
<line x1="292.60" y1="359.22" x2="296.40" y2="359.22" stroke="#000" stroke-width="0.9"/>
<line x1="294.60" y1="352.71" x2="296.40" y2="352.71" stroke="#000" stroke-width="0.9"/>
<line x1="294.60" y1="346.20" x2="296.40" y2="346.20" stroke="#000" stroke-width="0.9"/>
<line x1="294.60" y1="339.70" x2="296.40" y2="339.70" stroke="#000" stroke-width="0.9"/>
<line x1="294.60" y1="333.19" x2="296.40" y2="333.19" stroke="#000" stroke-width="0.9"/>
<line x1="292.60" y1="326.68" x2="296.40" y2="326.68" stroke="#000" stroke-width="0.9"/>
<line x1="294.60" y1="320.17" x2="296.40" y2="320.17" stroke="#000" stroke-width="0.9"/>
<line x1="294.60" y1="313.66" x2="296.40" y2="313.66" stroke="#000" stroke-width="0.9"/>
<line x1="294.60" y1="307.16" x2="296.40" y2="307.16" stroke="#000" stroke-width="0.9"/>
<line x1="294.60" y1="300.65" x2="296.40" y2="300.65" stroke="#000" stroke-width="0.9"/>
<line x1="292.60" y1="294.14" x2="296.40" y2="294.14" stroke="#000" stroke-width="0.9"/>
<line x1="294.60" y1="287.63" x2="296.40" y2="287.63" stroke="#000" stroke-width="0.9"/>
<line x1="294.60" y1="281.12" x2="296.40" y2="281.12" stroke="#000" stroke-width="0.9"/>
<line x1="294.60" y1="274.62" x2="296.40" y2="274.62" stroke="#000" stroke-width="0.9"/>
<line x1="294.60" y1="268.11" x2="296.40" y2="268.11" stroke="#000" stroke-width="0.9"/>
<line x1="292.60" y1="261.60" x2="296.40" y2="261.60" stroke="#000" stroke-width="0.9"/>
<text x="289.60" y="424.30" font-size="9.0" font-weight="normal" fill="#222" text-anchor="middle" transform="rotate(-90 289.59999999999997 424.3)" textLength="4.0" lengthAdjust="spacingAndGlyphs">0</text>
<text x="289.60" y="391.76" font-size="9.0" font-weight="normal" fill="#222" text-anchor="middle" transform="rotate(-90 289.59999999999997 391.76)" textLength="8.0" lengthAdjust="spacingAndGlyphs">20</text>
<text x="289.60" y="359.22" font-size="9.0" font-weight="normal" fill="#222" text-anchor="middle" transform="rotate(-90 289.59999999999997 359.22)" textLength="8.0" lengthAdjust="spacingAndGlyphs">40</text>
<text x="289.60" y="326.68" font-size="9.0" font-weight="normal" fill="#222" text-anchor="middle" transform="rotate(-90 289.59999999999997 326.68)" textLength="8.0" lengthAdjust="spacingAndGlyphs">60</text>
<text x="289.60" y="294.14" font-size="9.0" font-weight="normal" fill="#222" text-anchor="middle" transform="rotate(-90 289.59999999999997 294.14)" textLength="8.0" lengthAdjust="spacingAndGlyphs">80</text>
<text x="289.60" y="261.60" font-size="9.0" font-weight="normal" fill="#222" text-anchor="middle" transform="rotate(-90 289.59999999999997 261.6)" textLength="11.2" lengthAdjust="spacingAndGlyphs">100</text>
<line x1="312.69" y1="424.30" x2="312.69" y2="426.10" stroke="#000" stroke-width="0.8"/>
<line x1="322.22" y1="424.30" x2="322.22" y2="426.10" stroke="#000" stroke-width="0.8"/>
<line x1="328.99" y1="424.30" x2="328.99" y2="426.10" stroke="#000" stroke-width="0.8"/>
<line x1="334.23" y1="424.30" x2="334.23" y2="426.10" stroke="#000" stroke-width="0.8"/>
<line x1="338.52" y1="424.30" x2="338.52" y2="426.10" stroke="#000" stroke-width="0.8"/>
<line x1="342.14" y1="424.30" x2="342.14" y2="426.10" stroke="#000" stroke-width="0.8"/>
<line x1="345.28" y1="424.30" x2="345.28" y2="426.10" stroke="#000" stroke-width="0.8"/>
<line x1="348.05" y1="424.30" x2="348.05" y2="426.10" stroke="#000" stroke-width="0.8"/>
<line x1="366.82" y1="424.30" x2="366.82" y2="426.10" stroke="#000" stroke-width="0.8"/>
<line x1="376.35" y1="424.30" x2="376.35" y2="426.10" stroke="#000" stroke-width="0.8"/>
<line x1="383.11" y1="424.30" x2="383.11" y2="426.10" stroke="#000" stroke-width="0.8"/>
<line x1="388.36" y1="424.30" x2="388.36" y2="426.10" stroke="#000" stroke-width="0.8"/>
<line x1="392.64" y1="424.30" x2="392.64" y2="426.10" stroke="#000" stroke-width="0.8"/>
<line x1="396.27" y1="424.30" x2="396.27" y2="426.10" stroke="#000" stroke-width="0.8"/>
<line x1="399.40" y1="424.30" x2="399.40" y2="426.10" stroke="#000" stroke-width="0.8"/>
<line x1="402.17" y1="424.30" x2="402.17" y2="426.10" stroke="#000" stroke-width="0.8"/>
<line x1="420.94" y1="424.30" x2="420.94" y2="426.10" stroke="#000" stroke-width="0.8"/>
<line x1="430.47" y1="424.30" x2="430.47" y2="426.10" stroke="#000" stroke-width="0.8"/>
<line x1="437.24" y1="424.30" x2="437.24" y2="426.10" stroke="#000" stroke-width="0.8"/>
<line x1="442.48" y1="424.30" x2="442.48" y2="426.10" stroke="#000" stroke-width="0.8"/>
<line x1="446.77" y1="424.30" x2="446.77" y2="426.10" stroke="#000" stroke-width="0.8"/>
<line x1="450.39" y1="424.30" x2="450.39" y2="426.10" stroke="#000" stroke-width="0.8"/>
<line x1="453.53" y1="424.30" x2="453.53" y2="426.10" stroke="#000" stroke-width="0.8"/>
<line x1="456.30" y1="424.30" x2="456.30" y2="426.10" stroke="#000" stroke-width="0.8"/>
<line x1="475.07" y1="424.30" x2="475.07" y2="426.10" stroke="#000" stroke-width="0.8"/>
<line x1="484.60" y1="424.30" x2="484.60" y2="426.10" stroke="#000" stroke-width="0.8"/>
<line x1="491.36" y1="424.30" x2="491.36" y2="426.10" stroke="#000" stroke-width="0.8"/>
<line x1="496.61" y1="424.30" x2="496.61" y2="426.10" stroke="#000" stroke-width="0.8"/>
<line x1="500.89" y1="424.30" x2="500.89" y2="426.10" stroke="#000" stroke-width="0.8"/>
<line x1="504.52" y1="424.30" x2="504.52" y2="426.10" stroke="#000" stroke-width="0.8"/>
<line x1="507.65" y1="424.30" x2="507.65" y2="426.10" stroke="#000" stroke-width="0.8"/>
<line x1="510.42" y1="424.30" x2="510.42" y2="426.10" stroke="#000" stroke-width="0.8"/>
<line x1="296.40" y1="424.30" x2="296.40" y2="426.80" stroke="#000" stroke-width="0.9"/>
<text x="290.80" y="438.30" font-size="9.4" font-weight="normal" fill="#222" text-anchor="start" textLength="7.0" lengthAdjust="spacingAndGlyphs">10</text>
<text x="298.80" y="433.80" font-size="8.8" font-weight="normal" fill="#222" text-anchor="start" textLength="3.5" lengthAdjust="spacingAndGlyphs">0</text>
<line x1="350.52" y1="424.30" x2="350.52" y2="426.80" stroke="#000" stroke-width="0.9"/>
<text x="344.92" y="438.30" font-size="9.4" font-weight="normal" fill="#222" text-anchor="start" textLength="7.0" lengthAdjust="spacingAndGlyphs">10</text>
<text x="352.92" y="433.80" font-size="8.8" font-weight="normal" fill="#222" text-anchor="start" textLength="3.5" lengthAdjust="spacingAndGlyphs">1</text>
<line x1="404.65" y1="424.30" x2="404.65" y2="426.80" stroke="#000" stroke-width="0.9"/>
<text x="399.05" y="438.30" font-size="9.4" font-weight="normal" fill="#222" text-anchor="start" textLength="7.0" lengthAdjust="spacingAndGlyphs">10</text>
<text x="407.05" y="433.80" font-size="8.8" font-weight="normal" fill="#222" text-anchor="start" textLength="3.5" lengthAdjust="spacingAndGlyphs">2</text>
<line x1="458.77" y1="424.30" x2="458.77" y2="426.80" stroke="#000" stroke-width="0.9"/>
<text x="453.17" y="438.30" font-size="9.4" font-weight="normal" fill="#222" text-anchor="start" textLength="7.0" lengthAdjust="spacingAndGlyphs">10</text>
<text x="461.17" y="433.80" font-size="8.8" font-weight="normal" fill="#222" text-anchor="start" textLength="3.5" lengthAdjust="spacingAndGlyphs">3</text>
<line x1="512.90" y1="424.30" x2="512.90" y2="426.80" stroke="#000" stroke-width="0.9"/>
<text x="507.30" y="438.30" font-size="9.4" font-weight="normal" fill="#222" text-anchor="start" textLength="7.0" lengthAdjust="spacingAndGlyphs">10</text>
<text x="515.30" y="433.80" font-size="8.8" font-weight="normal" fill="#222" text-anchor="start" textLength="3.5" lengthAdjust="spacingAndGlyphs">4</text>
<text x="276.70" y="329.00" font-size="13.5" font-weight="bold" fill="#000" text-anchor="middle" transform="rotate(-90 276.7 329)" stroke="#000" stroke-width="0.3">Cell&#160;&#160;Number</text>
<text x="350.00" y="456.20" font-size="13.5" font-weight="bold" fill="#000" text-anchor="start" stroke="#000" stroke-width="0.3">Fluorescence Intensity</text>
<text x="506.00" y="278.00" font-size="15.8" font-weight="normal" fill="#000" text-anchor="end">A549</text>
<text x="325.50" y="290.50" font-size="13.3" font-weight="bold" fill="#000" text-anchor="start" stroke="#000" stroke-width="0.25">HI-NHS</text>
<text x="427.00" y="294.50" font-size="13.3" font-weight="bold" fill="#000" text-anchor="start" stroke="#000" stroke-width="0.25">NHS +</text>
<text x="427.00" y="311.30" font-size="13.3" font-weight="bold" fill="#000" text-anchor="start" stroke="#000" stroke-width="0.25">anti-CD46</text>
<text x="373.30" y="351.30" font-size="13.3" font-weight="bold" fill="#000" text-anchor="start" stroke="#000" stroke-width="0.25">NHS</text>
<line x1="345.00" y1="293.80" x2="345.00" y2="323.30" stroke="#000" stroke-width="1.85"/>
<path d="M345.00,327.50 L342.60,322.30 L347.40,322.30 Z" fill="#000"/>
<line x1="405.60" y1="351.80" x2="427.56" y2="364.41" stroke="#000" stroke-width="1.85"/>
<path d="M431.20,366.50 L425.50,365.99 L427.89,361.83 Z" fill="#000"/>
<line x1="477.60" y1="312.30" x2="477.05" y2="356.00" stroke="#000" stroke-width="1.85"/>
<path d="M477.00,360.20 L474.67,354.97 L479.46,355.03 Z" fill="#000"/>
<text x="-0.50" y="492.80" font-size="20.1" font-weight="bold" fill="#000" text-anchor="start" stroke="#000" stroke-width="0.35">E</text>
<path d="M35.00,666.63 L35.70,665.36 L36.40,664.73 L37.10,664.17 L37.80,663.66 L38.50,663.00 L39.20,662.04 L39.90,660.24 L40.60,660.30 L41.30,656.45 L42.00,655.34 L42.70,655.58 L43.40,652.05 L44.10,649.37 L44.80,649.71 L45.50,648.87 L46.20,643.10 L46.90,646.17 L47.60,638.87 L48.30,638.22 L49.00,639.66 L49.70,642.23 L50.40,633.17 L51.10,630.41 L51.80,629.46 L52.50,637.49 L53.20,626.21 L53.90,624.99 L54.60,624.21 L55.30,625.87 L56.00,626.91 L56.70,614.16 L57.40,617.67 L58.10,621.71 L58.80,609.17 L59.50,617.13 L60.20,608.56 L60.90,616.08 L61.60,610.76 L62.30,609.60 L63.00,593.28 L63.70,616.42 L64.40,617.51 L65.10,611.86 L65.80,612.55 L66.50,617.57 L67.20,621.21 L67.90,621.94 L68.60,626.75 L69.30,617.60 L70.00,619.38 L70.70,619.40 L71.40,620.18 L72.10,622.09 L72.80,620.95 L73.50,628.57 L74.20,619.10 L74.90,625.61 L75.60,630.18 L76.30,632.41 L77.00,630.77 L77.70,628.57 L78.40,630.50 L79.10,629.47 L79.80,627.60 L80.50,633.38 L81.20,633.44 L81.90,635.38 L82.60,641.10 L83.30,641.05 L84.00,641.48 L84.70,639.43 L85.40,646.26 L86.10,638.73 L86.80,647.03 L87.50,648.53 L88.20,648.80 L88.90,650.64 L89.60,649.44 L90.30,650.45 L91.00,648.01 L91.70,652.79 L92.40,650.82 L93.10,652.14 L93.80,653.34 L94.50,658.03 L95.20,654.66 L95.90,655.59 L96.60,657.58 L97.30,654.87 L98.00,654.27 L98.70,655.22 L99.40,656.40 L100.10,658.12 L100.80,655.84 L101.50,658.10 L102.20,656.69 L102.90,658.89 L103.60,659.18 L104.30,657.82 L105.00,659.56 L105.70,661.71 L106.40,658.31 L107.10,659.43 L107.80,659.62 L108.50,662.22 L109.20,660.87 L109.90,660.14 L110.60,660.72 L111.30,661.85 L112.00,660.60 L112.70,661.96 L113.40,663.31 L114.10,662.15 L114.80,662.62 L115.50,663.35 L116.20,661.53 L116.90,663.46 L117.60,661.59 L118.30,663.43 L119.00,663.20 L119.70,663.14 L120.40,662.53 L121.10,663.39 L121.80,663.07 L122.50,662.89 L123.20,663.74 L123.90,663.75 L124.60,664.10 L124.60,667.40 L35.00,667.40 Z" fill="#dadada" stroke="none"/>
<path d="M35.00,666.63 L35.70,665.36 L36.40,664.73 L37.10,664.17 L37.80,663.66 L38.50,663.00 L39.20,662.04 L39.90,660.24 L40.60,660.30 L41.30,656.45 L42.00,655.34 L42.70,655.58 L43.40,652.05 L44.10,649.37 L44.80,649.71 L45.50,648.87 L46.20,643.10 L46.90,646.17 L47.60,638.87 L48.30,638.22 L49.00,639.66 L49.70,642.23 L50.40,633.17 L51.10,630.41 L51.80,629.46 L52.50,637.49 L53.20,626.21 L53.90,624.99 L54.60,624.21 L55.30,625.87 L56.00,626.91 L56.70,614.16 L57.40,617.67 L58.10,621.71 L58.80,609.17 L59.50,617.13 L60.20,608.56 L60.90,616.08 L61.60,610.76 L62.30,609.60 L63.00,593.28 L63.70,616.42 L64.40,617.51 L65.10,611.86 L65.80,612.55 L66.50,617.57 L67.20,621.21 L67.90,621.94 L68.60,626.75 L69.30,617.60 L70.00,619.38 L70.70,619.40 L71.40,620.18 L72.10,622.09 L72.80,620.95 L73.50,628.57 L74.20,619.10 L74.90,625.61 L75.60,630.18 L76.30,632.41 L77.00,630.77 L77.70,628.57 L78.40,630.50 L79.10,629.47 L79.80,627.60 L80.50,633.38 L81.20,633.44 L81.90,635.38 L82.60,641.10 L83.30,641.05 L84.00,641.48 L84.70,639.43 L85.40,646.26 L86.10,638.73 L86.80,647.03 L87.50,648.53 L88.20,648.80 L88.90,650.64 L89.60,649.44 L90.30,650.45 L91.00,648.01 L91.70,652.79 L92.40,650.82 L93.10,652.14 L93.80,653.34 L94.50,658.03 L95.20,654.66 L95.90,655.59 L96.60,657.58 L97.30,654.87 L98.00,654.27 L98.70,655.22 L99.40,656.40 L100.10,658.12 L100.80,655.84 L101.50,658.10 L102.20,656.69 L102.90,658.89 L103.60,659.18 L104.30,657.82 L105.00,659.56 L105.70,661.71 L106.40,658.31 L107.10,659.43 L107.80,659.62 L108.50,662.22 L109.20,660.87 L109.90,660.14 L110.60,660.72 L111.30,661.85 L112.00,660.60 L112.70,661.96 L113.40,663.31 L114.10,662.15 L114.80,662.62 L115.50,663.35 L116.20,661.53 L116.90,663.46 L117.60,661.59 L118.30,663.43 L119.00,663.20 L119.70,663.14 L120.40,662.53 L121.10,663.39 L121.80,663.07 L122.50,662.89 L123.20,663.74 L123.90,663.75 L124.60,664.10" fill="none" stroke="#111" stroke-width="1.15" stroke-linejoin="round"/>
<path d="M110.00,665.91 L110.70,665.60 L111.40,665.40 L112.10,665.15 L112.80,666.14 L113.50,665.95 L114.20,666.01 L114.90,665.81 L115.60,665.75 L116.30,666.11 L117.00,665.61 L117.70,666.14 L118.40,665.51 L119.10,665.96 L119.80,665.57 L120.50,665.52 L121.20,665.69 L121.90,665.84 L122.60,665.90 L123.30,666.01 L124.00,665.12 L124.70,665.43 L125.40,665.00 L126.10,665.49 L126.80,665.49 L127.50,665.80 L128.20,665.68 L128.90,666.11 L129.60,665.25 L130.30,665.25 L131.00,665.07 L131.70,665.07 L132.40,665.91 L133.10,666.41 L133.80,665.29 L134.50,665.46 L135.20,665.87 L135.90,665.85 L136.60,665.25 L137.30,664.90 L138.00,665.36 L138.70,665.75 L139.40,665.21 L140.10,665.11 L140.80,665.91 L141.50,665.22 L142.20,665.82 L142.90,665.47 L143.60,665.30 L144.30,665.45 L145.00,665.99 L145.70,665.32 L146.40,665.95 L147.10,665.20 L147.80,666.12 L148.50,665.61 L149.20,665.60 L149.90,665.67 L150.60,665.34 L151.30,665.33 L152.00,664.77 L152.70,665.26 L153.40,665.02 L154.10,665.83 L154.80,665.04 L155.50,665.11 L156.20,664.93 L156.90,664.91 L157.60,665.74 L158.30,665.89 L159.00,665.70 L159.70,665.65 L160.40,664.92 L161.10,666.13 L161.80,665.40 L162.50,665.06 L163.20,665.48 L163.90,665.93 L164.60,665.74 L165.30,665.23 L166.00,665.16 L166.70,665.48 L167.40,665.30 L168.10,664.92 L168.80,665.55 L169.50,664.71 L170.20,665.78 L170.90,664.74 L171.60,665.94 L172.30,664.94 L173.00,665.42 L173.70,665.98 L174.40,665.38 L175.10,665.23 L175.80,665.21 L176.50,665.38 L177.20,665.49 L177.90,665.53 L178.60,665.39 L179.30,664.99 L180.00,665.25 L180.70,665.17 L181.40,665.35 L182.10,664.92 L182.80,664.56 L183.50,664.63 L184.20,665.86 L184.90,665.74 L185.60,665.80 L186.30,665.55 L187.00,664.72 L187.70,665.56 L188.40,665.39 L189.10,665.50 L189.80,666.11 L190.50,665.86 L191.20,665.69 L191.90,665.73 L192.60,665.55 L193.30,665.59 L194.00,665.51 L194.70,666.01 L195.40,665.06 L196.10,665.25 L196.80,665.69 L197.50,665.60 L198.20,665.74 L198.90,666.12 L199.60,665.18 L200.30,665.59 L201.00,665.04 L201.70,664.88 L202.40,665.91 L203.10,665.84 L203.80,665.24 L204.50,665.63 L205.20,665.67 L205.90,665.57 L206.60,665.27 L207.30,665.92 L208.00,665.40 L208.70,665.02 L209.40,665.63 L210.10,665.56 L210.80,665.27 L211.50,665.07 L212.20,665.07 L212.90,665.25 L213.60,664.83 L214.30,665.66 L215.00,664.83 L215.70,665.21 L216.40,665.54 L217.10,665.95 L217.80,664.86 L218.50,665.33 L219.20,665.22 L219.90,664.85 L220.60,665.57 L221.30,665.13 L222.00,665.10 L222.70,664.82 L223.40,665.30 L224.10,664.74 L224.80,665.62 L225.50,665.44 L226.20,665.66 L226.90,665.77 L227.60,664.80 L228.30,665.32 L229.00,665.43 L229.70,665.35 L230.40,665.37 L231.10,665.97 L231.80,665.59 L232.50,665.28 L233.20,665.87 L233.90,665.50 L234.60,665.57 L235.30,665.79 L236.00,665.92 L236.70,665.65 L237.40,665.34 L238.10,665.22 L238.80,665.99 L239.50,665.37 L240.20,665.21 L240.90,666.05 L241.60,665.92 L242.30,665.22 L243.00,665.16 L243.70,665.22 L244.40,664.83 L245.10,665.16 L245.80,664.92 L246.50,665.42 L247.20,665.42 L247.90,665.75 L248.60,665.38 L249.30,665.56 L250.00,665.64" fill="none" stroke="#444" stroke-width="0.8" stroke-linejoin="round"/>
<path d="M31.00,665.47 L31.70,665.47 L32.40,665.46 L33.10,665.22 L33.80,665.46 L34.50,665.86 L35.20,665.33 L35.90,665.50 L36.60,665.49 L37.30,665.39 L38.00,665.36 L38.70,665.08 L39.40,665.23 L40.10,665.39 L40.80,665.64 L41.50,665.72 L42.20,665.35 L42.90,665.04 L43.60,665.41 L44.30,665.45 L45.00,665.27 L45.70,665.85 L46.40,665.52 L47.10,665.28 L47.80,665.17 L48.50,665.49 L49.20,665.31 L49.90,665.35 L50.60,665.19 L51.30,665.75 L52.00,665.26 L52.70,665.87 L53.40,666.20 L54.10,665.60 L54.80,665.69 L55.50,665.17 L56.20,665.23 L56.90,665.78 L57.60,665.17 L58.30,665.72 L59.00,665.45 L59.70,665.51 L60.40,665.39 L61.10,665.18 L61.80,665.24 L62.50,665.32 L63.20,665.23 L63.90,665.28 L64.60,665.61 L65.30,665.64 L66.00,665.56 L66.70,665.28 L67.40,665.50 L68.10,664.74 L68.80,665.67 L69.50,665.75 L70.20,665.20 L70.90,665.00 L71.60,665.27 L72.30,665.18 L73.00,665.00 L73.70,665.45 L74.40,665.84 L75.10,665.58 L75.80,665.14 L76.50,665.85 L77.20,665.41 L77.90,665.35 L78.60,665.52 L79.30,665.21 L80.00,665.25 L80.70,664.74 L81.40,665.24 L82.10,665.60 L82.80,665.59 L83.50,665.67 L84.20,665.14 L84.90,665.59 L85.60,665.44 L86.30,665.20 L87.00,665.64 L87.70,665.51 L88.40,665.97 L89.10,665.74 L89.80,665.59 L90.50,665.30 L91.20,665.07 L91.90,665.43 L92.60,665.35 L93.30,665.37 L94.00,665.10 L94.70,665.16 L95.40,665.34 L96.10,665.72 L96.80,665.16 L97.50,665.31 L98.20,665.06 L98.90,665.43 L99.60,664.85 L100.30,665.53 L101.00,664.95 L101.70,665.38 L102.40,665.56 L103.10,665.74 L103.80,665.45 L104.50,664.98 L105.20,665.15 L105.90,665.19 L106.60,666.10 L107.30,665.17 L108.00,665.21 L108.70,665.54 L109.40,665.56 L110.10,665.37 L110.80,664.85 L111.50,665.68 L112.20,665.49 L112.90,664.94 L113.60,665.48 L114.30,665.46 L115.00,665.31 L115.70,665.71 L116.40,665.27 L117.10,665.70 L117.80,665.06 L118.50,665.32 L119.20,664.62 L119.90,665.23 L120.60,664.89 L121.30,665.70 L122.00,665.34 L122.70,665.20 L123.40,664.76 L124.10,665.81 L124.80,664.98 L125.50,665.10 L126.20,664.81 L126.90,665.06 L127.60,665.26 L128.30,665.43 L129.00,665.65 L129.70,665.20" fill="none" stroke="#000" stroke-width="1.5" stroke-linejoin="round"/>
<path d="M110.00,662.09 L110.70,662.89 L111.40,662.54 L112.10,662.28 L112.80,663.62 L113.50,664.15 L114.20,663.70 L114.90,662.35 L115.60,661.62 L116.30,662.34 L117.00,663.58 L117.70,661.00 L118.40,663.65 L119.10,662.54 L119.80,662.53 L120.50,661.67 L121.20,660.77 L121.90,663.16 L122.60,661.94 L123.30,661.23 L124.00,662.61 L124.70,661.45 L125.40,660.97 L126.10,662.22 L126.80,661.90 L127.50,660.19 L128.20,660.05 L128.90,659.19 L129.60,656.42 L130.30,657.65 L131.00,657.85 L131.70,659.00 L132.40,656.49 L133.10,658.46 L133.80,654.86 L134.50,655.02 L135.20,659.28 L135.90,657.29 L136.60,654.93 L137.30,654.42 L138.00,655.07 L138.70,654.22 L139.40,649.80 L140.10,651.30 L140.80,652.45 L141.50,649.11 L142.20,645.61 L142.90,643.13 L143.60,645.78 L144.30,645.77 L145.00,646.08 L145.70,644.35 L146.40,640.32 L147.10,636.97 L147.80,635.47 L148.50,638.12 L149.20,633.46 L149.90,632.33 L150.60,631.81 L151.30,639.54 L152.00,630.59 L152.70,629.92 L153.40,623.31 L154.10,627.87 L154.80,624.36 L155.50,624.07 L156.20,619.47 L156.90,620.32 L157.60,618.34 L158.30,615.57 L159.00,616.61 L159.70,616.31 L160.40,619.46 L161.10,617.02 L161.80,607.54 L162.50,615.17 L163.20,612.13 L163.90,613.54 L164.60,613.43 L165.30,624.23 L166.00,602.49 L166.70,614.34 L167.40,611.77 L168.10,600.69 L168.80,618.52 L169.50,608.81 L170.20,612.57 L170.90,619.29 L171.60,609.74 L172.30,616.23 L173.00,613.12 L173.70,614.26 L174.40,609.39 L175.10,602.10 L175.80,617.09 L176.50,599.87 L177.20,615.99 L177.90,615.96 L178.60,623.67 L179.30,621.93 L180.00,620.48 L180.70,617.07 L181.40,620.70 L182.10,620.90 L182.80,621.79 L183.50,630.71 L184.20,622.24 L184.90,629.72 L185.60,627.80 L186.30,631.62 L187.00,630.66 L187.70,629.94 L188.40,639.47 L189.10,626.69 L189.80,632.86 L190.50,630.54 L191.20,633.68 L191.90,634.54 L192.60,639.16 L193.30,636.88 L194.00,642.48 L194.70,636.76 L195.40,632.05 L196.10,642.17 L196.80,639.00 L197.50,638.34 L198.20,634.28 L198.90,634.33 L199.60,637.85 L200.30,638.01 L201.00,638.95 L201.70,640.24 L202.40,640.66 L203.10,641.07 L203.80,640.70 L204.50,640.56 L205.20,642.85 L205.90,640.11 L206.60,642.25 L207.30,641.30 L208.00,646.41 L208.70,645.24 L209.40,643.96 L210.10,644.22 L210.80,645.98 L211.50,642.87 L212.20,647.43 L212.90,644.65 L213.60,645.49 L214.30,647.67 L215.00,648.89 L215.70,649.40 L216.40,651.43 L217.10,653.62 L217.80,652.86 L218.50,653.40 L219.20,653.35 L219.90,654.24 L220.60,655.16 L221.30,653.47 L222.00,651.71 L222.70,655.80 L223.40,657.67 L224.10,656.00 L224.80,657.34 L225.50,657.34 L226.20,658.07 L226.90,656.65 L227.60,655.86 L228.30,653.59 L229.00,658.61 L229.70,659.09 L230.40,657.53 L231.10,657.64 L231.80,655.46 L232.50,656.07 L233.20,658.85 L233.90,660.81 L234.60,657.57 L235.30,659.04 L236.00,656.92 L236.70,658.97 L237.40,659.18 L238.10,660.64 L238.80,659.44 L239.50,658.23 L240.20,660.71 L240.90,659.74 L241.60,660.81 L242.30,659.35 L243.00,660.60 L243.70,660.15 L244.40,660.59 L245.10,662.02 L245.80,662.47 L246.50,660.20 L247.20,662.03 L247.90,662.86 L248.60,662.68 L249.30,660.76 L250.00,662.38" fill="none" stroke="#1a1a1a" stroke-width="0.95" stroke-linejoin="round"/>
<path d="M130.20,665.83 L130.90,664.69 L131.60,664.65 L132.30,665.01 L133.00,664.51 L133.70,664.19 L134.40,664.10 L135.10,663.92 L135.80,663.31 L136.50,662.86 L137.20,662.25 L137.90,663.34 L138.60,663.68 L139.30,662.30 L140.00,662.99 L140.70,663.26 L141.40,660.80 L142.10,661.38 L142.80,662.32 L143.50,662.11 L144.20,661.23 L144.90,661.25 L145.60,660.66 L146.30,660.66 L147.00,662.05 L147.70,661.56 L148.40,657.51 L149.10,657.83 L149.80,660.50 L150.50,656.45 L151.20,655.87 L151.90,654.61 L152.60,655.08 L153.30,653.97 L154.00,655.28 L154.70,656.05 L155.40,653.11 L156.10,651.22 L156.80,650.79 L157.50,651.97 L158.20,648.47 L158.90,647.67 L159.60,643.10 L160.30,646.32 L161.00,644.63 L161.70,642.38 L162.40,638.98 L163.10,634.91 L163.80,635.53 L164.50,639.77 L165.20,637.44 L165.90,628.37 L166.60,631.36 L167.30,631.46 L168.00,628.14 L168.70,626.21 L169.40,621.25 L170.10,625.25 L170.80,627.30 L171.50,627.67 L172.20,620.08 L172.90,623.10 L173.60,621.88 L174.30,620.19 L175.00,625.27 L175.70,614.71 L176.40,621.38 L177.10,620.64 L177.80,620.39 L178.50,618.32 L179.20,620.34 L179.90,620.38 L180.60,616.64 L181.30,614.05 L182.00,616.42 L182.70,623.95 L183.40,620.88 L184.10,614.02 L184.80,619.57 L185.50,619.13 L186.20,620.44 L186.90,613.34 L187.60,620.74 L188.30,620.48 L189.00,614.31 L189.70,624.35 L190.40,619.60 L191.10,607.37 L191.80,617.24 L192.50,615.34 L193.20,624.64 L193.90,616.91 L194.60,620.29 L195.30,619.00 L196.00,619.17 L196.70,615.41 L197.40,616.81 L198.10,611.37 L198.80,624.70 L199.50,617.96 L200.20,612.07 L200.90,613.36 L201.60,608.86 L202.30,616.54 L203.00,610.18 L203.70,612.01 L204.40,619.29 L205.10,621.27 L205.80,605.62 L206.50,608.70 L207.20,612.71 L207.90,606.46 L208.60,622.79 L209.30,618.31 L210.00,617.98 L210.70,613.74 L211.40,622.66 L212.10,623.82 L212.80,625.81 L213.50,623.81 L214.20,624.25 L214.90,625.46 L215.60,633.36 L216.30,633.23 L217.00,639.48 L217.70,639.52 L218.40,639.52 L219.10,637.28 L219.80,646.10 L220.50,641.20 L221.20,637.43 L221.90,640.65 L222.60,640.83 L223.30,646.40 L224.00,645.31 L224.70,648.59 L225.40,643.57 L226.10,648.31 L226.80,648.85 L227.50,650.51 L228.20,648.34 L228.90,646.37 L229.60,649.87 L230.30,650.51 L231.00,651.67 L231.70,649.13 L232.40,651.38 L233.10,651.04 L233.80,652.19 L234.50,652.37 L235.20,651.77 L235.90,652.20 L236.60,656.09 L237.30,654.08 L238.00,654.71 L238.70,653.99 L239.40,653.19 L240.10,656.50 L240.80,656.80 L241.50,658.19 L242.20,657.39 L242.90,655.28 L243.60,658.23 L244.30,656.08 L245.00,658.16 L245.70,658.89 L246.40,658.94 L247.10,660.10 L247.80,659.52 L248.50,660.35 L249.20,662.74 L249.90,662.01" fill="none" stroke="#000" stroke-width="2.1" stroke-linejoin="round"/>
<line x1="31.00" y1="593.30" x2="31.00" y2="667.50" stroke="#222" stroke-width="2.2"/>
<rect x="29.60" y="502.70" width="220.50" height="164.70" fill="none" stroke="#1a1a1a" stroke-width="1.15"/>
<line x1="29.60" y1="502.30" x2="29.60" y2="667.90" stroke="#000" stroke-width="1.3"/>
<line x1="29.10" y1="667.40" x2="250.50" y2="667.40" stroke="#000" stroke-width="1.4"/>
<line x1="25.80" y1="667.40" x2="29.60" y2="667.40" stroke="#000" stroke-width="0.9"/>
<line x1="27.80" y1="660.81" x2="29.60" y2="660.81" stroke="#000" stroke-width="0.9"/>
<line x1="27.80" y1="654.22" x2="29.60" y2="654.22" stroke="#000" stroke-width="0.9"/>
<line x1="27.80" y1="647.64" x2="29.60" y2="647.64" stroke="#000" stroke-width="0.9"/>
<line x1="27.80" y1="641.05" x2="29.60" y2="641.05" stroke="#000" stroke-width="0.9"/>
<line x1="25.80" y1="634.46" x2="29.60" y2="634.46" stroke="#000" stroke-width="0.9"/>
<line x1="27.80" y1="627.87" x2="29.60" y2="627.87" stroke="#000" stroke-width="0.9"/>
<line x1="27.80" y1="621.28" x2="29.60" y2="621.28" stroke="#000" stroke-width="0.9"/>
<line x1="27.80" y1="614.70" x2="29.60" y2="614.70" stroke="#000" stroke-width="0.9"/>
<line x1="27.80" y1="608.11" x2="29.60" y2="608.11" stroke="#000" stroke-width="0.9"/>
<line x1="25.80" y1="601.52" x2="29.60" y2="601.52" stroke="#000" stroke-width="0.9"/>
<line x1="27.80" y1="594.93" x2="29.60" y2="594.93" stroke="#000" stroke-width="0.9"/>
<line x1="27.80" y1="588.34" x2="29.60" y2="588.34" stroke="#000" stroke-width="0.9"/>
<line x1="27.80" y1="581.76" x2="29.60" y2="581.76" stroke="#000" stroke-width="0.9"/>
<line x1="27.80" y1="575.17" x2="29.60" y2="575.17" stroke="#000" stroke-width="0.9"/>
<line x1="25.80" y1="568.58" x2="29.60" y2="568.58" stroke="#000" stroke-width="0.9"/>
<line x1="27.80" y1="561.99" x2="29.60" y2="561.99" stroke="#000" stroke-width="0.9"/>
<line x1="27.80" y1="555.40" x2="29.60" y2="555.40" stroke="#000" stroke-width="0.9"/>
<line x1="27.80" y1="548.82" x2="29.60" y2="548.82" stroke="#000" stroke-width="0.9"/>
<line x1="27.80" y1="542.23" x2="29.60" y2="542.23" stroke="#000" stroke-width="0.9"/>
<line x1="25.80" y1="535.64" x2="29.60" y2="535.64" stroke="#000" stroke-width="0.9"/>
<line x1="27.80" y1="529.05" x2="29.60" y2="529.05" stroke="#000" stroke-width="0.9"/>
<line x1="27.80" y1="522.46" x2="29.60" y2="522.46" stroke="#000" stroke-width="0.9"/>
<line x1="27.80" y1="515.88" x2="29.60" y2="515.88" stroke="#000" stroke-width="0.9"/>
<line x1="27.80" y1="509.29" x2="29.60" y2="509.29" stroke="#000" stroke-width="0.9"/>
<line x1="25.80" y1="502.70" x2="29.60" y2="502.70" stroke="#000" stroke-width="0.9"/>
<text x="22.90" y="667.40" font-size="9.0" font-weight="normal" fill="#222" text-anchor="middle" transform="rotate(-90 22.900000000000002 667.4)" textLength="4.0" lengthAdjust="spacingAndGlyphs">0</text>
<text x="22.90" y="634.46" font-size="9.0" font-weight="normal" fill="#222" text-anchor="middle" transform="rotate(-90 22.900000000000002 634.46)" textLength="8.0" lengthAdjust="spacingAndGlyphs">20</text>
<text x="22.90" y="601.52" font-size="9.0" font-weight="normal" fill="#222" text-anchor="middle" transform="rotate(-90 22.900000000000002 601.52)" textLength="8.0" lengthAdjust="spacingAndGlyphs">40</text>
<text x="22.90" y="568.58" font-size="9.0" font-weight="normal" fill="#222" text-anchor="middle" transform="rotate(-90 22.900000000000002 568.5799999999999)" textLength="8.0" lengthAdjust="spacingAndGlyphs">60</text>
<text x="22.90" y="535.64" font-size="9.0" font-weight="normal" fill="#222" text-anchor="middle" transform="rotate(-90 22.900000000000002 535.64)" textLength="8.0" lengthAdjust="spacingAndGlyphs">80</text>
<text x="22.90" y="502.70" font-size="9.0" font-weight="normal" fill="#222" text-anchor="middle" transform="rotate(-90 22.900000000000002 502.7)" textLength="11.2" lengthAdjust="spacingAndGlyphs">100</text>
<line x1="46.19" y1="667.40" x2="46.19" y2="669.20" stroke="#000" stroke-width="0.8"/>
<line x1="55.90" y1="667.40" x2="55.90" y2="669.20" stroke="#000" stroke-width="0.8"/>
<line x1="62.79" y1="667.40" x2="62.79" y2="669.20" stroke="#000" stroke-width="0.8"/>
<line x1="68.13" y1="667.40" x2="68.13" y2="669.20" stroke="#000" stroke-width="0.8"/>
<line x1="72.50" y1="667.40" x2="72.50" y2="669.20" stroke="#000" stroke-width="0.8"/>
<line x1="76.19" y1="667.40" x2="76.19" y2="669.20" stroke="#000" stroke-width="0.8"/>
<line x1="79.38" y1="667.40" x2="79.38" y2="669.20" stroke="#000" stroke-width="0.8"/>
<line x1="82.20" y1="667.40" x2="82.20" y2="669.20" stroke="#000" stroke-width="0.8"/>
<line x1="101.32" y1="667.40" x2="101.32" y2="669.20" stroke="#000" stroke-width="0.8"/>
<line x1="111.03" y1="667.40" x2="111.03" y2="669.20" stroke="#000" stroke-width="0.8"/>
<line x1="117.91" y1="667.40" x2="117.91" y2="669.20" stroke="#000" stroke-width="0.8"/>
<line x1="123.26" y1="667.40" x2="123.26" y2="669.20" stroke="#000" stroke-width="0.8"/>
<line x1="127.62" y1="667.40" x2="127.62" y2="669.20" stroke="#000" stroke-width="0.8"/>
<line x1="131.31" y1="667.40" x2="131.31" y2="669.20" stroke="#000" stroke-width="0.8"/>
<line x1="134.51" y1="667.40" x2="134.51" y2="669.20" stroke="#000" stroke-width="0.8"/>
<line x1="137.33" y1="667.40" x2="137.33" y2="669.20" stroke="#000" stroke-width="0.8"/>
<line x1="156.44" y1="667.40" x2="156.44" y2="669.20" stroke="#000" stroke-width="0.8"/>
<line x1="166.15" y1="667.40" x2="166.15" y2="669.20" stroke="#000" stroke-width="0.8"/>
<line x1="173.04" y1="667.40" x2="173.04" y2="669.20" stroke="#000" stroke-width="0.8"/>
<line x1="178.38" y1="667.40" x2="178.38" y2="669.20" stroke="#000" stroke-width="0.8"/>
<line x1="182.75" y1="667.40" x2="182.75" y2="669.20" stroke="#000" stroke-width="0.8"/>
<line x1="186.44" y1="667.40" x2="186.44" y2="669.20" stroke="#000" stroke-width="0.8"/>
<line x1="189.63" y1="667.40" x2="189.63" y2="669.20" stroke="#000" stroke-width="0.8"/>
<line x1="192.45" y1="667.40" x2="192.45" y2="669.20" stroke="#000" stroke-width="0.8"/>
<line x1="211.57" y1="667.40" x2="211.57" y2="669.20" stroke="#000" stroke-width="0.8"/>
<line x1="221.28" y1="667.40" x2="221.28" y2="669.20" stroke="#000" stroke-width="0.8"/>
<line x1="228.16" y1="667.40" x2="228.16" y2="669.20" stroke="#000" stroke-width="0.8"/>
<line x1="233.51" y1="667.40" x2="233.51" y2="669.20" stroke="#000" stroke-width="0.8"/>
<line x1="237.87" y1="667.40" x2="237.87" y2="669.20" stroke="#000" stroke-width="0.8"/>
<line x1="241.56" y1="667.40" x2="241.56" y2="669.20" stroke="#000" stroke-width="0.8"/>
<line x1="244.76" y1="667.40" x2="244.76" y2="669.20" stroke="#000" stroke-width="0.8"/>
<line x1="247.58" y1="667.40" x2="247.58" y2="669.20" stroke="#000" stroke-width="0.8"/>
<line x1="29.60" y1="667.40" x2="29.60" y2="669.90" stroke="#000" stroke-width="0.9"/>
<text x="24.00" y="680.60" font-size="9.4" font-weight="normal" fill="#222" text-anchor="start" textLength="7.0" lengthAdjust="spacingAndGlyphs">10</text>
<text x="32.00" y="676.80" font-size="8.8" font-weight="normal" fill="#222" text-anchor="start" textLength="3.5" lengthAdjust="spacingAndGlyphs">0</text>
<line x1="84.72" y1="667.40" x2="84.72" y2="669.90" stroke="#000" stroke-width="0.9"/>
<text x="79.12" y="680.60" font-size="9.4" font-weight="normal" fill="#222" text-anchor="start" textLength="7.0" lengthAdjust="spacingAndGlyphs">10</text>
<text x="87.12" y="676.80" font-size="8.8" font-weight="normal" fill="#222" text-anchor="start" textLength="3.5" lengthAdjust="spacingAndGlyphs">1</text>
<line x1="139.85" y1="667.40" x2="139.85" y2="669.90" stroke="#000" stroke-width="0.9"/>
<text x="134.25" y="680.60" font-size="9.4" font-weight="normal" fill="#222" text-anchor="start" textLength="7.0" lengthAdjust="spacingAndGlyphs">10</text>
<text x="142.25" y="676.80" font-size="8.8" font-weight="normal" fill="#222" text-anchor="start" textLength="3.5" lengthAdjust="spacingAndGlyphs">2</text>
<line x1="194.97" y1="667.40" x2="194.97" y2="669.90" stroke="#000" stroke-width="0.9"/>
<text x="189.38" y="680.60" font-size="9.4" font-weight="normal" fill="#222" text-anchor="start" textLength="7.0" lengthAdjust="spacingAndGlyphs">10</text>
<text x="197.38" y="676.80" font-size="8.8" font-weight="normal" fill="#222" text-anchor="start" textLength="3.5" lengthAdjust="spacingAndGlyphs">3</text>
<line x1="250.10" y1="667.40" x2="250.10" y2="669.90" stroke="#000" stroke-width="0.9"/>
<text x="244.50" y="680.60" font-size="9.4" font-weight="normal" fill="#222" text-anchor="start" textLength="7.0" lengthAdjust="spacingAndGlyphs">10</text>
<text x="252.50" y="676.80" font-size="8.8" font-weight="normal" fill="#222" text-anchor="start" textLength="3.5" lengthAdjust="spacingAndGlyphs">4</text>
<text x="10.70" y="573.20" font-size="13.5" font-weight="bold" fill="#000" text-anchor="middle" transform="rotate(-90 10.7 573.2)" stroke="#000" stroke-width="0.3">Cell&#160;&#160;Number</text>
<text x="82.50" y="698.00" font-size="13.5" font-weight="bold" fill="#000" text-anchor="start" stroke="#000" stroke-width="0.3">Fluorescence Intensity</text>
<text x="246.50" y="520.00" font-size="15.8" font-weight="normal" fill="#000" text-anchor="end">H1264</text>
<text x="42.00" y="547.00" font-size="13.3" font-weight="bold" fill="#000" text-anchor="start" stroke="#000" stroke-width="0.25">HI-NHS</text>
<text x="145.50" y="534.50" font-size="13.3" font-weight="bold" fill="#000" text-anchor="start" stroke="#000" stroke-width="0.25">NHS +</text>
<text x="145.50" y="551.30" font-size="13.3" font-weight="bold" fill="#000" text-anchor="start" stroke="#000" stroke-width="0.25">anti-CD55</text>
<text x="96.10" y="601.30" font-size="13.3" font-weight="bold" fill="#000" text-anchor="start" stroke="#000" stroke-width="0.25">NHS</text>
<line x1="62.50" y1="551.30" x2="62.50" y2="579.60" stroke="#000" stroke-width="1.85"/>
<path d="M62.50,583.80 L60.10,578.60 L64.90,578.60 Z" fill="#000"/>
<line x1="128.90" y1="600.60" x2="151.82" y2="613.27" stroke="#000" stroke-width="1.85"/>
<path d="M155.50,615.30 L149.79,614.89 L152.11,610.68 Z" fill="#000"/>
<line x1="192.40" y1="555.00" x2="194.22" y2="597.70" stroke="#000" stroke-width="1.85"/>
<path d="M194.40,601.90 L191.78,596.81 L196.58,596.60 Z" fill="#000"/>
<text x="271.30" y="493.30" font-size="20.1" font-weight="bold" fill="#000" text-anchor="start" stroke="#000" stroke-width="0.35">F</text>
<path d="M300.00,666.13 L300.70,666.06 L301.40,665.91 L302.10,665.46 L302.80,665.38 L303.50,666.31 L304.20,665.50 L304.90,664.57 L305.60,665.13 L306.30,666.29 L307.00,664.81 L307.70,664.89 L308.40,664.46 L309.10,663.13 L309.80,663.56 L310.50,663.41 L311.20,662.83 L311.90,660.74 L312.60,659.60 L313.30,658.61 L314.00,657.04 L314.70,653.90 L315.40,657.76 L316.10,655.26 L316.80,651.57 L317.50,651.19 L318.20,653.67 L318.90,649.39 L319.60,646.93 L320.30,643.23 L321.00,646.98 L321.70,642.85 L322.40,641.97 L323.10,642.21 L323.80,637.63 L324.50,639.29 L325.20,637.47 L325.90,632.24 L326.60,637.38 L327.30,627.68 L328.00,625.75 L328.70,619.60 L329.40,625.05 L330.10,619.13 L330.80,614.38 L331.50,612.22 L332.20,619.06 L332.90,610.83 L333.60,613.15 L334.30,611.00 L335.00,604.01 L335.70,615.11 L336.40,604.67 L337.10,593.76 L337.80,603.07 L338.50,605.44 L339.20,601.53 L339.90,598.97 L340.60,605.42 L341.30,596.57 L342.00,603.85 L342.70,596.17 L343.40,579.58 L344.10,596.69 L344.80,594.82 L345.50,589.29 L346.20,599.24 L346.90,595.94 L347.60,599.32 L348.30,583.27 L349.00,595.28 L349.70,605.68 L350.40,601.10 L351.10,593.64 L351.80,599.67 L352.50,604.14 L353.20,598.71 L353.90,601.62 L354.60,604.54 L355.30,610.00 L356.00,612.76 L356.70,608.37 L357.40,610.74 L358.10,617.84 L358.80,619.96 L359.50,622.17 L360.20,619.20 L360.90,624.83 L361.60,631.39 L362.30,630.04 L363.00,632.32 L363.70,636.83 L364.40,636.42 L365.10,638.57 L365.80,635.96 L366.50,640.80 L367.20,643.22 L367.90,643.79 L368.60,647.25 L369.30,644.56 L370.00,647.06 L370.70,646.64 L371.40,646.93 L372.10,645.62 L372.80,649.94 L373.50,649.57 L374.20,653.11 L374.90,655.06 L375.60,654.32 L376.30,657.05 L377.00,654.92 L377.70,656.67 L378.40,658.01 L379.10,656.67 L379.80,657.94 L380.50,656.83 L381.20,659.80 L381.90,658.58 L382.60,658.89 L383.30,660.81 L384.00,658.82 L384.70,660.40 L385.40,661.69 L386.10,661.86 L386.80,662.38 L387.50,664.27 L388.20,664.20 L388.90,664.75 L389.60,663.91 L390.30,662.51 L391.00,665.03 L391.70,663.24 L392.40,663.61 L393.10,664.66 L393.80,665.74 L394.50,664.56 L394.50,667.60 L300.00,667.60 Z" fill="#dadada" stroke="none"/>
<path d="M300.00,666.13 L300.70,666.06 L301.40,665.91 L302.10,665.46 L302.80,665.38 L303.50,666.31 L304.20,665.50 L304.90,664.57 L305.60,665.13 L306.30,666.29 L307.00,664.81 L307.70,664.89 L308.40,664.46 L309.10,663.13 L309.80,663.56 L310.50,663.41 L311.20,662.83 L311.90,660.74 L312.60,659.60 L313.30,658.61 L314.00,657.04 L314.70,653.90 L315.40,657.76 L316.10,655.26 L316.80,651.57 L317.50,651.19 L318.20,653.67 L318.90,649.39 L319.60,646.93 L320.30,643.23 L321.00,646.98 L321.70,642.85 L322.40,641.97 L323.10,642.21 L323.80,637.63 L324.50,639.29 L325.20,637.47 L325.90,632.24 L326.60,637.38 L327.30,627.68 L328.00,625.75 L328.70,619.60 L329.40,625.05 L330.10,619.13 L330.80,614.38 L331.50,612.22 L332.20,619.06 L332.90,610.83 L333.60,613.15 L334.30,611.00 L335.00,604.01 L335.70,615.11 L336.40,604.67 L337.10,593.76 L337.80,603.07 L338.50,605.44 L339.20,601.53 L339.90,598.97 L340.60,605.42 L341.30,596.57 L342.00,603.85 L342.70,596.17 L343.40,579.58 L344.10,596.69 L344.80,594.82 L345.50,589.29 L346.20,599.24 L346.90,595.94 L347.60,599.32 L348.30,583.27 L349.00,595.28 L349.70,605.68 L350.40,601.10 L351.10,593.64 L351.80,599.67 L352.50,604.14 L353.20,598.71 L353.90,601.62 L354.60,604.54 L355.30,610.00 L356.00,612.76 L356.70,608.37 L357.40,610.74 L358.10,617.84 L358.80,619.96 L359.50,622.17 L360.20,619.20 L360.90,624.83 L361.60,631.39 L362.30,630.04 L363.00,632.32 L363.70,636.83 L364.40,636.42 L365.10,638.57 L365.80,635.96 L366.50,640.80 L367.20,643.22 L367.90,643.79 L368.60,647.25 L369.30,644.56 L370.00,647.06 L370.70,646.64 L371.40,646.93 L372.10,645.62 L372.80,649.94 L373.50,649.57 L374.20,653.11 L374.90,655.06 L375.60,654.32 L376.30,657.05 L377.00,654.92 L377.70,656.67 L378.40,658.01 L379.10,656.67 L379.80,657.94 L380.50,656.83 L381.20,659.80 L381.90,658.58 L382.60,658.89 L383.30,660.81 L384.00,658.82 L384.70,660.40 L385.40,661.69 L386.10,661.86 L386.80,662.38 L387.50,664.27 L388.20,664.20 L388.90,664.75 L389.60,663.91 L390.30,662.51 L391.00,665.03 L391.70,663.24 L392.40,663.61 L393.10,664.66 L393.80,665.74 L394.50,664.56" fill="none" stroke="#111" stroke-width="1.15" stroke-linejoin="round"/>
<path d="M390.00,665.96 L390.70,665.61 L391.40,665.66 L392.10,665.47 L392.80,665.89 L393.50,665.55 L394.20,665.65 L394.90,666.05 L395.60,665.42 L396.30,666.00 L397.00,666.31 L397.70,666.02 L398.40,666.13 L399.10,666.02 L399.80,665.55 L400.50,665.86 L401.20,665.24 L401.90,665.90 L402.60,665.59 L403.30,665.78 L404.00,666.40 L404.70,665.73 L405.40,665.61 L406.10,665.40 L406.80,666.17 L407.50,665.36 L408.20,665.28 L408.90,666.01 L409.60,665.57 L410.30,665.23 L411.00,666.32 L411.70,665.50 L412.40,666.43 L413.10,665.59 L413.80,665.10 L414.50,665.76 L415.20,665.41 L415.90,666.23 L416.60,665.85 L417.30,665.79 L418.00,665.29 L418.70,665.69 L419.40,665.29 L420.10,665.61 L420.80,665.84 L421.50,665.53 L422.20,665.49 L422.90,665.68 L423.60,665.29 L424.30,665.88 L425.00,665.51 L425.70,665.36 L426.40,665.80 L427.10,665.59 L427.80,665.60 L428.50,666.13 L429.20,665.01 L429.90,665.71 L430.60,665.39 L431.30,666.76 L432.00,665.20 L432.70,665.84 L433.40,666.04 L434.10,665.74 L434.80,665.34 L435.50,666.35 L436.20,665.33 L436.90,666.21 L437.60,665.30 L438.30,665.58 L439.00,665.26 L439.70,665.41 L440.40,666.02 L441.10,665.85 L441.80,665.49 L442.50,665.83 L443.20,665.70 L443.90,666.09 L444.60,665.43 L445.30,664.74 L446.00,665.29 L446.70,665.52 L447.40,666.09 L448.10,665.74 L448.80,665.22 L449.50,665.69 L450.20,665.43 L450.90,665.83 L451.60,665.83 L452.30,665.62 L453.00,665.87 L453.70,665.91 L454.40,665.61 L455.10,665.80 L455.80,666.47 L456.50,665.46 L457.20,665.15 L457.90,665.61 L458.60,665.88 L459.30,666.13 L460.00,666.01 L460.70,665.78 L461.40,665.38 L462.10,665.71 L462.80,665.79 L463.50,666.12 L464.20,665.70 L464.90,666.02 L465.60,665.07 L466.30,665.58 L467.00,665.75 L467.70,665.07 L468.40,665.06 L469.10,665.69 L469.80,666.19 L470.50,665.26 L471.20,665.87 L471.90,665.45 L472.60,666.09 L473.30,665.86 L474.00,665.81 L474.70,666.04 L475.40,666.11 L476.10,665.34 L476.80,665.85 L477.50,665.23 L478.20,665.47 L478.90,665.64 L479.60,665.49 L480.30,665.82 L481.00,665.74 L481.70,665.59 L482.40,665.62 L483.10,665.94 L483.80,665.39 L484.50,665.56 L485.20,665.13 L485.90,665.88 L486.60,664.81 L487.30,665.63 L488.00,665.30 L488.70,665.47 L489.40,666.22 L490.10,665.77 L490.80,665.25 L491.50,665.16 L492.20,665.73 L492.90,665.10 L493.60,665.24 L494.30,665.84 L495.00,665.15 L495.70,665.64 L496.40,666.14 L497.10,665.43 L497.80,665.61 L498.50,665.80 L499.20,666.08 L499.90,665.84 L500.60,665.23 L501.30,665.85 L502.00,666.08 L502.70,666.02 L503.40,665.29 L504.10,665.08 L504.80,666.06 L505.50,665.88 L506.20,665.41 L506.90,665.31 L507.60,665.84 L508.30,665.52 L509.00,665.04 L509.70,665.88 L510.40,665.77 L511.10,665.61 L511.80,665.48 L512.50,665.66 L513.20,666.08 L513.90,665.66" fill="none" stroke="#444" stroke-width="0.8" stroke-linejoin="round"/>
<path d="M296.00,665.04 L296.70,665.17 L297.40,665.21 L298.10,665.54 L298.80,664.84 L299.50,665.28 L300.20,664.98 L300.90,665.25 L301.60,664.81 L302.30,665.17 L303.00,665.03 L303.70,664.87 L304.40,665.22 L305.10,665.22 L305.80,665.19 L306.50,665.12 L307.20,664.97 L307.90,665.07 L308.60,665.12 L309.30,664.89 L310.00,665.09 L310.70,665.50 L311.40,664.71 L312.10,665.71 L312.80,664.51 L313.50,665.65 L314.20,665.60 L314.90,665.38 L315.60,664.85 L316.30,665.44 L317.00,664.90 L317.70,664.84 L318.40,665.36 L319.10,665.19 L319.80,664.98 L320.50,665.04 L321.20,665.35 L321.90,665.73 L322.60,665.35 L323.30,665.45 L324.00,665.12 L324.70,665.15 L325.40,665.39 L326.10,665.50 L326.80,665.35 L327.50,665.10 L328.20,665.00 L328.90,665.01 L329.60,664.84 L330.30,664.83 L331.00,665.30 L331.70,664.76 L332.40,665.54 L333.10,664.97 L333.80,665.18 L334.50,665.74 L335.20,664.65 L335.90,664.47 L336.60,664.78 L337.30,665.65 L338.00,665.94 L338.70,664.91 L339.40,665.06 L340.10,665.38 L340.80,665.41 L341.50,665.76 L342.20,665.14 L342.90,665.87 L343.60,665.65 L344.30,665.25 L345.00,664.72 L345.70,664.93 L346.40,664.83 L347.10,664.73 L347.80,664.89 L348.50,665.34 L349.20,665.06 L349.90,665.11 L350.60,665.35 L351.30,665.18 L352.00,665.19 L352.70,665.61 L353.40,665.65 L354.10,665.16 L354.80,664.94 L355.50,664.85 L356.20,664.75 L356.90,665.03 L357.60,665.10 L358.30,665.34 L359.00,665.56 L359.70,666.15 L360.40,665.26 L361.10,664.95 L361.80,665.16 L362.50,664.52 L363.20,664.65 L363.90,664.87 L364.60,665.20 L365.30,664.59 L366.00,664.66 L366.70,665.58 L367.40,665.00 L368.10,664.76 L368.80,665.43 L369.50,664.53 L370.20,665.21 L370.90,664.96 L371.60,665.27 L372.30,665.08 L373.00,665.07 L373.70,664.64 L374.40,665.25 L375.10,664.97 L375.80,664.92 L376.50,665.26 L377.20,665.01 L377.90,665.64 L378.60,665.61 L379.30,665.32 L380.00,665.72 L380.70,665.44 L381.40,665.20 L382.10,665.33 L382.80,665.28 L383.50,665.37 L384.20,664.84 L384.90,665.05 L385.60,665.82 L386.30,664.64 L387.00,664.37 L387.70,664.63 L388.40,664.44 L389.10,665.11 L389.80,664.19 L390.50,664.54 L391.20,664.77 L391.90,664.26 L392.60,664.55 L393.30,664.95 L394.00,664.62 L394.70,664.41 L395.40,664.67 L396.10,664.40 L396.80,664.77 L397.50,665.19 L398.20,664.02 L398.90,664.28 L399.60,664.24 L400.30,665.06 L401.00,664.41 L401.70,663.85 L402.40,664.51 L403.10,664.74 L403.80,663.36 L404.50,664.24 L405.20,664.00 L405.90,664.23 L406.60,663.60 L407.30,664.04 L408.00,664.39 L408.70,664.23 L409.40,664.02 L410.10,663.27 L410.80,663.98 L411.50,664.04 L412.20,663.45 L412.90,663.43 L413.60,664.11 L414.30,663.75 L415.00,663.46 L415.70,663.94 L416.40,663.38 L417.10,663.54 L417.80,664.27 L418.50,663.34" fill="none" stroke="#000" stroke-width="1.6" stroke-linejoin="round"/>
<path d="M405.00,666.07 L405.70,665.88 L406.40,665.84 L407.10,664.50 L407.80,663.92 L408.50,664.83 L409.20,664.51 L409.90,665.39 L410.60,664.02 L411.30,664.17 L412.00,662.65 L412.70,661.50 L413.40,663.65 L414.10,664.06 L414.80,662.90 L415.50,662.86 L416.20,662.41 L416.90,660.30 L417.60,660.51 L418.30,659.40 L419.00,661.17 L419.70,657.64 L420.40,656.58 L421.10,651.51 L421.80,651.24 L422.50,650.02 L423.20,648.20 L423.90,645.18 L424.60,645.31 L425.30,644.64 L426.00,642.26 L426.70,637.77 L427.40,635.81 L428.10,639.68 L428.80,638.30 L429.50,628.98 L430.20,628.66 L430.90,623.98 L431.60,623.41 L432.30,625.37 L433.00,622.95 L433.70,621.61 L434.40,624.50 L435.10,626.36 L435.80,614.61 L436.50,616.27 L437.20,619.46 L437.90,613.21 L438.60,613.91 L439.30,608.98 L440.00,605.85 L440.70,603.19 L441.40,608.00 L442.10,603.45 L442.80,612.37 L443.50,612.74 L444.20,612.50 L444.90,605.47 L445.60,603.12 L446.30,606.32 L447.00,595.07 L447.70,601.21 L448.40,605.44 L449.10,610.18 L449.80,606.82 L450.50,604.29 L451.20,600.84 L451.90,601.00 L452.60,605.45 L453.30,601.34 L454.00,606.44 L454.70,603.09 L455.40,603.75 L456.10,598.35 L456.80,611.70 L457.50,611.95 L458.20,607.98 L458.90,601.56 L459.60,612.96 L460.30,612.49 L461.00,608.01 L461.70,603.85 L462.40,616.01 L463.10,611.11 L463.80,609.07 L464.50,612.40 L465.20,618.07 L465.90,614.32 L466.60,621.29 L467.30,626.26 L468.00,624.82 L468.70,621.93 L469.40,626.01 L470.10,629.22 L470.80,634.75 L471.50,635.64 L472.20,627.75 L472.90,635.77 L473.60,636.81 L474.30,638.06 L475.00,635.96 L475.70,644.89 L476.40,641.17 L477.10,641.07 L477.80,645.53 L478.50,644.66 L479.20,643.09 L479.90,649.49 L480.60,650.05 L481.30,647.80 L482.00,652.57 L482.70,650.03 L483.40,652.85 L484.10,653.85 L484.80,651.86 L485.50,650.17 L486.20,652.68 L486.90,654.19 L487.60,655.64 L488.30,656.13 L489.00,657.47 L489.70,656.99 L490.40,656.29 L491.10,655.20 L491.80,656.96 L492.50,653.86 L493.20,652.17 L493.90,653.87 L494.60,652.60 L495.30,654.52 L496.00,656.95 L496.70,654.54 L497.40,654.46 L498.10,654.62 L498.80,654.10 L499.50,651.05 L500.20,651.45 L500.90,649.64 L501.60,649.28 L502.30,652.19 L503.00,645.17 L503.70,648.09 L504.40,645.48 L505.10,647.32 L505.80,645.27 L506.50,646.91 L507.20,648.42 L507.90,648.27 L508.60,646.36 L509.30,643.22 L510.00,641.88 L510.70,641.10 L511.40,643.90 L512.10,639.82 L512.80,643.38 L513.50,643.03 L514.20,642.22" fill="none" stroke="#1a1a1a" stroke-width="0.95" stroke-linejoin="round"/>
<path d="M419.00,663.33 L419.70,663.40 L420.40,663.60 L421.10,662.51 L421.80,660.68 L422.50,661.36 L423.20,661.93 L423.90,659.57 L424.60,661.48 L425.30,657.19 L426.00,657.03 L426.70,659.46 L427.40,653.59 L428.10,655.48 L428.80,658.20 L429.50,655.55 L430.20,655.46 L430.90,652.65 L431.60,649.29 L432.30,649.94 L433.00,642.57 L433.70,639.55 L434.40,645.16 L435.10,641.69 L435.80,647.14 L436.50,638.69 L437.20,639.69 L437.90,637.67 L438.60,636.77 L439.30,633.04 L440.00,627.38 L440.70,631.49 L441.40,631.11 L442.10,631.30 L442.80,627.67 L443.50,616.59 L444.20,625.63 L444.90,626.32 L445.60,630.13 L446.30,623.92 L447.00,616.20 L447.70,608.74 L448.40,607.76 L449.10,610.20 L449.80,609.75 L450.50,605.48 L451.20,612.66 L451.90,605.38 L452.60,604.34 L453.30,609.87 L454.00,597.83 L454.70,604.94 L455.40,597.47 L456.10,609.21 L456.80,605.74 L457.50,599.74 L458.20,603.36 L458.90,605.05 L459.60,593.44 L460.30,600.38 L461.00,601.87 L461.70,597.28 L462.40,596.12 L463.10,592.42 L463.80,607.38 L464.50,602.92 L465.20,604.42 L465.90,599.59 L466.60,601.82 L467.30,612.22 L468.00,601.42 L468.70,615.13 L469.40,608.52 L470.10,607.99 L470.80,607.68 L471.50,604.61 L472.20,610.13 L472.90,604.04 L473.60,605.43 L474.30,615.03 L475.00,607.71 L475.70,610.44 L476.40,618.87 L477.10,610.21 L477.80,615.41 L478.50,624.40 L479.20,623.87 L479.90,626.68 L480.60,626.40 L481.30,620.88 L482.00,627.89 L482.70,634.05 L483.40,625.97 L484.10,635.16 L484.80,634.56 L485.50,636.83 L486.20,635.69 L486.90,638.21 L487.60,638.41 L488.30,638.45 L489.00,638.91 L489.70,638.06 L490.40,643.73 L491.10,643.90 L491.80,643.20 L492.50,641.69 L493.20,646.85 L493.90,645.14 L494.60,645.50 L495.30,647.28 L496.00,642.78 L496.70,643.25 L497.40,644.26 L498.10,644.00 L498.80,644.39 L499.50,643.99 L500.20,640.49 L500.90,643.92 L501.60,641.99 L502.30,637.57 L503.00,637.83 L503.70,637.01 L504.40,639.61 L505.10,635.19 L505.80,633.18 L506.50,631.59 L507.20,639.17 L507.90,630.54 L508.60,628.82 L509.30,631.84 L510.00,631.35 L510.70,635.04 L511.40,636.89 L512.10,631.81 L512.80,634.76 L513.50,634.22" fill="none" stroke="#000" stroke-width="2.1" stroke-linejoin="round"/>
<line x1="513.80" y1="565.00" x2="513.80" y2="667.30" stroke="#222" stroke-width="1.8"/>
<rect x="294.90" y="504.60" width="219.70" height="163.00" fill="none" stroke="#1a1a1a" stroke-width="1.15"/>
<line x1="294.90" y1="504.20" x2="294.90" y2="668.10" stroke="#000" stroke-width="1.3"/>
<line x1="294.40" y1="667.60" x2="515.00" y2="667.60" stroke="#000" stroke-width="1.4"/>
<line x1="291.10" y1="667.60" x2="294.90" y2="667.60" stroke="#000" stroke-width="0.9"/>
<line x1="293.10" y1="661.08" x2="294.90" y2="661.08" stroke="#000" stroke-width="0.9"/>
<line x1="293.10" y1="654.56" x2="294.90" y2="654.56" stroke="#000" stroke-width="0.9"/>
<line x1="293.10" y1="648.04" x2="294.90" y2="648.04" stroke="#000" stroke-width="0.9"/>
<line x1="293.10" y1="641.52" x2="294.90" y2="641.52" stroke="#000" stroke-width="0.9"/>
<line x1="291.10" y1="635.00" x2="294.90" y2="635.00" stroke="#000" stroke-width="0.9"/>
<line x1="293.10" y1="628.48" x2="294.90" y2="628.48" stroke="#000" stroke-width="0.9"/>
<line x1="293.10" y1="621.96" x2="294.90" y2="621.96" stroke="#000" stroke-width="0.9"/>
<line x1="293.10" y1="615.44" x2="294.90" y2="615.44" stroke="#000" stroke-width="0.9"/>
<line x1="293.10" y1="608.92" x2="294.90" y2="608.92" stroke="#000" stroke-width="0.9"/>
<line x1="291.10" y1="602.40" x2="294.90" y2="602.40" stroke="#000" stroke-width="0.9"/>
<line x1="293.10" y1="595.88" x2="294.90" y2="595.88" stroke="#000" stroke-width="0.9"/>
<line x1="293.10" y1="589.36" x2="294.90" y2="589.36" stroke="#000" stroke-width="0.9"/>
<line x1="293.10" y1="582.84" x2="294.90" y2="582.84" stroke="#000" stroke-width="0.9"/>
<line x1="293.10" y1="576.32" x2="294.90" y2="576.32" stroke="#000" stroke-width="0.9"/>
<line x1="291.10" y1="569.80" x2="294.90" y2="569.80" stroke="#000" stroke-width="0.9"/>
<line x1="293.10" y1="563.28" x2="294.90" y2="563.28" stroke="#000" stroke-width="0.9"/>
<line x1="293.10" y1="556.76" x2="294.90" y2="556.76" stroke="#000" stroke-width="0.9"/>
<line x1="293.10" y1="550.24" x2="294.90" y2="550.24" stroke="#000" stroke-width="0.9"/>
<line x1="293.10" y1="543.72" x2="294.90" y2="543.72" stroke="#000" stroke-width="0.9"/>
<line x1="291.10" y1="537.20" x2="294.90" y2="537.20" stroke="#000" stroke-width="0.9"/>
<line x1="293.10" y1="530.68" x2="294.90" y2="530.68" stroke="#000" stroke-width="0.9"/>
<line x1="293.10" y1="524.16" x2="294.90" y2="524.16" stroke="#000" stroke-width="0.9"/>
<line x1="293.10" y1="517.64" x2="294.90" y2="517.64" stroke="#000" stroke-width="0.9"/>
<line x1="293.10" y1="511.12" x2="294.90" y2="511.12" stroke="#000" stroke-width="0.9"/>
<line x1="291.10" y1="504.60" x2="294.90" y2="504.60" stroke="#000" stroke-width="0.9"/>
<text x="287.80" y="667.60" font-size="9.0" font-weight="normal" fill="#222" text-anchor="middle" transform="rotate(-90 287.79999999999995 667.6)" textLength="4.0" lengthAdjust="spacingAndGlyphs">0</text>
<text x="287.80" y="635.00" font-size="9.0" font-weight="normal" fill="#222" text-anchor="middle" transform="rotate(-90 287.79999999999995 635.0)" textLength="8.0" lengthAdjust="spacingAndGlyphs">20</text>
<text x="287.80" y="602.40" font-size="9.0" font-weight="normal" fill="#222" text-anchor="middle" transform="rotate(-90 287.79999999999995 602.4)" textLength="8.0" lengthAdjust="spacingAndGlyphs">40</text>
<text x="287.80" y="569.80" font-size="9.0" font-weight="normal" fill="#222" text-anchor="middle" transform="rotate(-90 287.79999999999995 569.8000000000001)" textLength="8.0" lengthAdjust="spacingAndGlyphs">60</text>
<text x="287.80" y="537.20" font-size="9.0" font-weight="normal" fill="#222" text-anchor="middle" transform="rotate(-90 287.79999999999995 537.2)" textLength="8.0" lengthAdjust="spacingAndGlyphs">80</text>
<text x="287.80" y="504.60" font-size="9.0" font-weight="normal" fill="#222" text-anchor="middle" transform="rotate(-90 287.79999999999995 504.6)" textLength="11.2" lengthAdjust="spacingAndGlyphs">100</text>
<line x1="311.43" y1="667.60" x2="311.43" y2="669.40" stroke="#000" stroke-width="0.8"/>
<line x1="321.11" y1="667.60" x2="321.11" y2="669.40" stroke="#000" stroke-width="0.8"/>
<line x1="327.97" y1="667.60" x2="327.97" y2="669.40" stroke="#000" stroke-width="0.8"/>
<line x1="333.29" y1="667.60" x2="333.29" y2="669.40" stroke="#000" stroke-width="0.8"/>
<line x1="337.64" y1="667.60" x2="337.64" y2="669.40" stroke="#000" stroke-width="0.8"/>
<line x1="341.32" y1="667.60" x2="341.32" y2="669.40" stroke="#000" stroke-width="0.8"/>
<line x1="344.50" y1="667.60" x2="344.50" y2="669.40" stroke="#000" stroke-width="0.8"/>
<line x1="347.31" y1="667.60" x2="347.31" y2="669.40" stroke="#000" stroke-width="0.8"/>
<line x1="366.36" y1="667.60" x2="366.36" y2="669.40" stroke="#000" stroke-width="0.8"/>
<line x1="376.03" y1="667.60" x2="376.03" y2="669.40" stroke="#000" stroke-width="0.8"/>
<line x1="382.89" y1="667.60" x2="382.89" y2="669.40" stroke="#000" stroke-width="0.8"/>
<line x1="388.22" y1="667.60" x2="388.22" y2="669.40" stroke="#000" stroke-width="0.8"/>
<line x1="392.56" y1="667.60" x2="392.56" y2="669.40" stroke="#000" stroke-width="0.8"/>
<line x1="396.24" y1="667.60" x2="396.24" y2="669.40" stroke="#000" stroke-width="0.8"/>
<line x1="399.43" y1="667.60" x2="399.43" y2="669.40" stroke="#000" stroke-width="0.8"/>
<line x1="402.24" y1="667.60" x2="402.24" y2="669.40" stroke="#000" stroke-width="0.8"/>
<line x1="421.28" y1="667.60" x2="421.28" y2="669.40" stroke="#000" stroke-width="0.8"/>
<line x1="430.96" y1="667.60" x2="430.96" y2="669.40" stroke="#000" stroke-width="0.8"/>
<line x1="437.82" y1="667.60" x2="437.82" y2="669.40" stroke="#000" stroke-width="0.8"/>
<line x1="443.14" y1="667.60" x2="443.14" y2="669.40" stroke="#000" stroke-width="0.8"/>
<line x1="447.49" y1="667.60" x2="447.49" y2="669.40" stroke="#000" stroke-width="0.8"/>
<line x1="451.17" y1="667.60" x2="451.17" y2="669.40" stroke="#000" stroke-width="0.8"/>
<line x1="454.35" y1="667.60" x2="454.35" y2="669.40" stroke="#000" stroke-width="0.8"/>
<line x1="457.16" y1="667.60" x2="457.16" y2="669.40" stroke="#000" stroke-width="0.8"/>
<line x1="476.21" y1="667.60" x2="476.21" y2="669.40" stroke="#000" stroke-width="0.8"/>
<line x1="485.88" y1="667.60" x2="485.88" y2="669.40" stroke="#000" stroke-width="0.8"/>
<line x1="492.74" y1="667.60" x2="492.74" y2="669.40" stroke="#000" stroke-width="0.8"/>
<line x1="498.07" y1="667.60" x2="498.07" y2="669.40" stroke="#000" stroke-width="0.8"/>
<line x1="502.41" y1="667.60" x2="502.41" y2="669.40" stroke="#000" stroke-width="0.8"/>
<line x1="506.09" y1="667.60" x2="506.09" y2="669.40" stroke="#000" stroke-width="0.8"/>
<line x1="509.28" y1="667.60" x2="509.28" y2="669.40" stroke="#000" stroke-width="0.8"/>
<line x1="512.09" y1="667.60" x2="512.09" y2="669.40" stroke="#000" stroke-width="0.8"/>
<line x1="294.90" y1="667.60" x2="294.90" y2="670.10" stroke="#000" stroke-width="0.9"/>
<text x="289.30" y="680.90" font-size="9.4" font-weight="normal" fill="#222" text-anchor="start" textLength="7.0" lengthAdjust="spacingAndGlyphs">10</text>
<text x="297.30" y="676.80" font-size="8.8" font-weight="normal" fill="#222" text-anchor="start" textLength="3.5" lengthAdjust="spacingAndGlyphs">0</text>
<line x1="349.82" y1="667.60" x2="349.82" y2="670.10" stroke="#000" stroke-width="0.9"/>
<text x="344.22" y="680.90" font-size="9.4" font-weight="normal" fill="#222" text-anchor="start" textLength="7.0" lengthAdjust="spacingAndGlyphs">10</text>
<text x="352.22" y="676.80" font-size="8.8" font-weight="normal" fill="#222" text-anchor="start" textLength="3.5" lengthAdjust="spacingAndGlyphs">1</text>
<line x1="404.75" y1="667.60" x2="404.75" y2="670.10" stroke="#000" stroke-width="0.9"/>
<text x="399.15" y="680.90" font-size="9.4" font-weight="normal" fill="#222" text-anchor="start" textLength="7.0" lengthAdjust="spacingAndGlyphs">10</text>
<text x="407.15" y="676.80" font-size="8.8" font-weight="normal" fill="#222" text-anchor="start" textLength="3.5" lengthAdjust="spacingAndGlyphs">2</text>
<line x1="459.68" y1="667.60" x2="459.68" y2="670.10" stroke="#000" stroke-width="0.9"/>
<text x="454.07" y="680.90" font-size="9.4" font-weight="normal" fill="#222" text-anchor="start" textLength="7.0" lengthAdjust="spacingAndGlyphs">10</text>
<text x="462.07" y="676.80" font-size="8.8" font-weight="normal" fill="#222" text-anchor="start" textLength="3.5" lengthAdjust="spacingAndGlyphs">3</text>
<line x1="514.60" y1="667.60" x2="514.60" y2="670.10" stroke="#000" stroke-width="0.9"/>
<text x="509.00" y="680.90" font-size="9.4" font-weight="normal" fill="#222" text-anchor="start" textLength="7.0" lengthAdjust="spacingAndGlyphs">10</text>
<text x="517.00" y="676.80" font-size="8.8" font-weight="normal" fill="#222" text-anchor="start" textLength="3.5" lengthAdjust="spacingAndGlyphs">4</text>
<text x="275.00" y="573.20" font-size="13.5" font-weight="bold" fill="#000" text-anchor="middle" transform="rotate(-90 275 573.2)" stroke="#000" stroke-width="0.3">Cell&#160;&#160;Number</text>
<text x="348.80" y="698.70" font-size="13.5" font-weight="bold" fill="#000" text-anchor="start" stroke="#000" stroke-width="0.3">Fluorescence Intensity</text>
<text x="509.20" y="520.00" font-size="15.8" font-weight="normal" fill="#000" text-anchor="end">A549</text>
<text x="323.80" y="536.30" font-size="13.3" font-weight="bold" fill="#000" text-anchor="start" stroke="#000" stroke-width="0.25">HI-NHS</text>
<text x="418.00" y="539.50" font-size="13.3" font-weight="bold" fill="#000" text-anchor="start" stroke="#000" stroke-width="0.25">NHS +</text>
<text x="418.00" y="556.30" font-size="13.3" font-weight="bold" fill="#000" text-anchor="start" stroke="#000" stroke-width="0.25">anti-CD55</text>
<text x="375.50" y="585.20" font-size="13.3" font-weight="bold" fill="#000" text-anchor="start" stroke="#000" stroke-width="0.25">NHS</text>
<line x1="344.50" y1="539.50" x2="344.50" y2="569.60" stroke="#000" stroke-width="1.85"/>
<path d="M344.50,573.80 L342.10,568.60 L346.90,568.60 Z" fill="#000"/>
<line x1="408.20" y1="585.20" x2="431.69" y2="597.72" stroke="#000" stroke-width="1.85"/>
<path d="M435.40,599.70 L429.68,599.37 L431.94,595.14 Z" fill="#000"/>
<line x1="468.30" y1="557.00" x2="471.03" y2="588.32" stroke="#000" stroke-width="1.85"/>
<path d="M471.40,592.50 L468.56,587.53 L473.34,587.11 Z" fill="#000"/>
</svg>
</body></html>
